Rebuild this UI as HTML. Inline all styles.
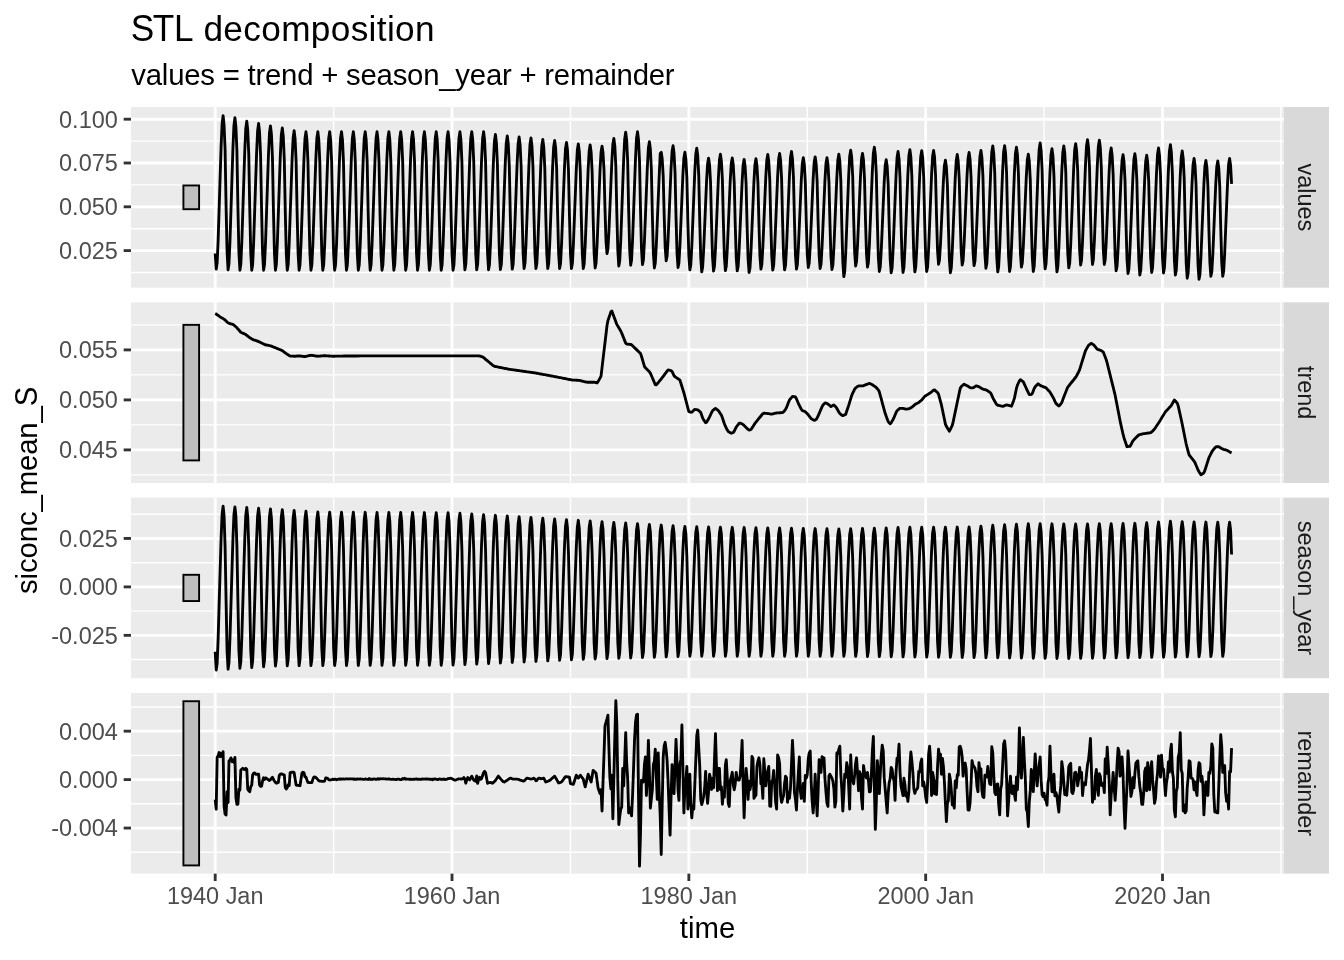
<!DOCTYPE html><html><head><meta charset="utf-8"><title>STL decomposition</title><style>html,body{margin:0;padding:0;background:#fff;}svg{display:block;will-change:transform;}</style></head><body>
<svg width="1344" height="960" viewBox="0 0 1344 960" font-family="'Liberation Sans', Arial, Helvetica, sans-serif">
<rect x="0" y="0" width="1344" height="960" fill="#ffffff"/>
<rect x="131.0" y="107.00" width="1153.00" height="180.65" fill="#EBEBEB"/>
<g stroke="#FFFFFF" fill="none"><line x1="131.0" x2="1284.0" y1="272.50" y2="272.50" stroke-width="1.42"/><line x1="131.0" x2="1284.0" y1="228.70" y2="228.70" stroke-width="1.42"/><line x1="131.0" x2="1284.0" y1="184.90" y2="184.90" stroke-width="1.42"/><line x1="131.0" x2="1284.0" y1="141.10" y2="141.10" stroke-width="1.42"/><line x1="333.63" x2="333.63" y1="107.00" y2="287.65" stroke-width="1.42"/><line x1="570.45" x2="570.45" y1="107.00" y2="287.65" stroke-width="1.42"/><line x1="807.28" x2="807.28" y1="107.00" y2="287.65" stroke-width="1.42"/><line x1="1044.10" x2="1044.10" y1="107.00" y2="287.65" stroke-width="1.42"/><line x1="1280.93" x2="1280.93" y1="107.00" y2="287.65" stroke-width="1.42"/><line x1="131.0" x2="1284.0" y1="250.60" y2="250.60" stroke-width="2.85"/><line x1="131.0" x2="1284.0" y1="206.80" y2="206.80" stroke-width="2.85"/><line x1="131.0" x2="1284.0" y1="163.00" y2="163.00" stroke-width="2.85"/><line x1="131.0" x2="1284.0" y1="119.20" y2="119.20" stroke-width="2.85"/><line x1="215.20" x2="215.20" y1="107.00" y2="287.65" stroke-width="2.85"/><line x1="452.02" x2="452.02" y1="107.00" y2="287.65" stroke-width="2.85"/><line x1="688.85" x2="688.85" y1="107.00" y2="287.65" stroke-width="2.85"/><line x1="925.67" x2="925.67" y1="107.00" y2="287.65" stroke-width="2.85"/><line x1="1162.50" x2="1162.50" y1="107.00" y2="287.65" stroke-width="2.85"/></g>
<rect x="183.41" y="185.45" width="15.69" height="23.75" fill="#BFBFBF" stroke="#000000" stroke-width="1.9"/>
<path d="M215.20,253.50 L216.21,269.18 L217.15,263.04 L218.15,240.03 L219.12,209.35 L220.13,177.13 L221.10,146.45 L222.11,123.44 L223.11,115.77 L224.08,125.02 L225.09,149.67 L226.06,205.15 L227.07,251.39 L228.07,269.88 L228.98,263.79 L229.98,240.97 L230.96,210.54 L231.96,178.58 L232.93,148.15 L233.94,125.33 L234.94,117.72 L235.92,126.87 L236.92,151.28 L237.89,206.20 L238.90,251.97 L239.90,270.28 L240.81,264.32 L241.82,241.96 L242.79,212.15 L243.79,180.84 L244.77,151.03 L245.77,128.67 L246.78,121.22 L247.75,130.16 L248.75,154.01 L249.73,207.67 L250.73,252.39 L251.74,270.28 L252.64,264.41 L253.65,242.40 L254.62,213.04 L255.63,182.22 L256.60,152.87 L257.60,130.86 L258.61,123.52 L259.58,132.33 L260.59,155.81 L261.56,208.64 L262.56,252.67 L263.57,270.28 L264.51,264.50 L265.52,242.83 L266.49,213.94 L267.49,183.60 L268.47,154.71 L269.47,133.04 L270.48,125.82 L271.45,134.49 L272.45,157.60 L273.43,209.61 L274.43,252.94 L275.44,270.28 L276.34,264.59 L277.35,243.23 L278.32,214.76 L279.33,184.86 L280.30,156.39 L281.30,135.04 L282.31,127.92 L283.28,136.46 L284.29,159.24 L285.26,210.49 L286.26,253.20 L287.27,270.28 L288.18,264.69 L289.18,243.74 L290.15,215.81 L291.16,186.48 L292.13,158.55 L293.14,137.60 L294.14,130.62 L295.11,139.00 L296.12,161.35 L297.09,211.62 L298.10,253.52 L299.10,270.28 L300.01,264.73 L301.01,243.93 L301.99,216.20 L302.99,187.08 L303.96,159.35 L304.97,138.55 L305.97,131.62 L306.95,139.94 L307.95,162.13 L308.92,212.04 L309.93,253.64 L310.94,270.28 L311.88,264.73 L312.88,243.93 L313.85,216.20 L314.86,187.08 L315.83,159.35 L316.84,138.55 L317.84,131.62 L318.81,139.94 L319.82,162.13 L320.79,212.04 L321.80,253.64 L322.80,270.28 L323.71,264.73 L324.71,243.93 L325.69,216.20 L326.69,187.08 L327.66,159.35 L328.67,138.55 L329.67,131.62 L330.65,139.94 L331.65,162.13 L332.62,212.04 L333.63,253.64 L334.63,270.28 L335.54,264.73 L336.55,243.93 L337.52,216.20 L338.52,187.08 L339.50,159.35 L340.50,138.55 L341.51,131.62 L342.48,139.94 L343.48,162.13 L344.46,212.04 L345.46,253.64 L346.47,270.28 L347.37,264.73 L348.38,243.93 L349.35,216.20 L350.36,187.08 L351.33,159.35 L352.33,138.55 L353.34,131.62 L354.31,139.94 L355.32,162.13 L356.29,212.04 L357.29,253.64 L358.30,270.28 L359.24,264.73 L360.25,243.93 L361.22,216.20 L362.22,187.08 L363.20,159.35 L364.20,138.55 L365.21,131.62 L366.18,139.94 L367.18,162.13 L368.16,212.04 L369.16,253.64 L370.17,270.28 L371.07,264.73 L372.08,243.93 L373.05,216.20 L374.06,187.08 L375.03,159.35 L376.03,138.55 L377.04,131.62 L378.01,139.94 L379.02,162.13 L379.99,212.04 L380.99,253.64 L382.00,270.28 L382.91,264.73 L383.91,243.93 L384.88,216.20 L385.89,187.08 L386.86,159.35 L387.87,138.55 L388.87,131.62 L389.84,139.94 L390.85,162.13 L391.82,212.04 L392.83,253.64 L393.83,270.28 L394.74,264.73 L395.74,243.93 L396.72,216.20 L397.72,187.08 L398.69,159.35 L399.70,138.55 L400.70,131.62 L401.68,139.94 L402.68,162.13 L403.65,212.04 L404.66,253.64 L405.67,270.28 L406.61,264.73 L407.61,243.93 L408.58,216.20 L409.59,187.08 L410.56,159.35 L411.57,138.55 L412.57,131.62 L413.54,139.94 L414.55,162.13 L415.52,212.04 L416.53,253.64 L417.53,270.28 L418.44,264.73 L419.44,243.93 L420.42,216.20 L421.42,187.08 L422.39,159.35 L423.40,138.55 L424.40,131.62 L425.38,139.94 L426.38,162.13 L427.35,212.04 L428.36,253.64 L429.36,270.28 L430.27,264.73 L431.28,243.93 L432.25,216.20 L433.25,187.08 L434.23,159.35 L435.23,138.55 L436.24,131.62 L437.21,139.94 L438.21,162.13 L439.19,212.04 L440.19,253.64 L441.20,270.28 L442.10,264.73 L443.11,243.93 L444.08,216.20 L445.09,187.08 L446.06,159.35 L447.06,138.55 L448.07,131.62 L449.04,139.94 L450.05,162.13 L451.02,212.04 L452.02,253.64 L453.03,270.28 L453.97,264.73 L454.98,243.93 L455.95,216.20 L456.95,187.08 L457.93,159.35 L458.93,138.55 L459.94,131.62 L460.91,139.92 L461.91,162.04 L462.89,211.81 L463.89,253.29 L464.90,269.88 L465.80,264.35 L466.81,243.61 L467.78,215.96 L468.79,186.92 L469.76,159.27 L470.76,138.53 L471.77,131.62 L472.74,139.92 L473.75,162.04 L474.72,211.81 L475.72,253.29 L476.73,269.88 L477.64,264.35 L478.64,243.61 L479.61,215.96 L480.62,186.92 L481.59,159.27 L482.60,138.53 L483.60,131.62 L484.57,139.92 L485.58,162.04 L486.55,211.81 L487.56,253.29 L488.56,269.88 L489.47,264.47 L490.47,244.16 L491.45,217.09 L492.45,188.66 L493.42,161.59 L494.43,141.29 L495.43,134.52 L496.41,142.62 L497.41,164.23 L498.38,212.85 L499.39,253.37 L500.40,269.58 L501.34,264.23 L502.34,244.18 L503.31,217.45 L504.32,189.38 L505.29,162.65 L506.30,142.60 L507.30,135.92 L508.27,143.92 L509.28,165.24 L510.25,213.21 L511.26,253.19 L512.26,269.18 L513.17,263.89 L514.17,244.07 L515.15,217.64 L516.15,189.88 L517.12,163.45 L518.13,143.63 L519.13,137.02 L520.11,144.91 L521.11,165.96 L522.08,213.32 L523.09,252.79 L524.09,268.58 L525.00,263.36 L526.01,243.77 L526.98,217.66 L527.98,190.24 L528.96,164.13 L529.96,144.55 L530.97,138.02 L531.94,145.85 L532.94,166.74 L533.92,213.74 L534.92,252.91 L535.93,268.58 L536.83,263.41 L537.84,244.04 L538.81,218.21 L539.82,191.08 L540.79,165.25 L541.79,145.88 L542.80,139.42 L543.77,147.17 L544.78,167.84 L545.75,214.33 L546.75,253.08 L547.76,268.58 L548.70,263.46 L549.71,244.25 L550.68,218.64 L551.68,191.74 L552.66,166.13 L553.66,146.92 L554.67,140.52 L555.64,148.20 L556.64,168.69 L557.62,214.79 L558.62,253.21 L559.63,268.58 L560.53,263.53 L561.54,244.61 L562.51,219.38 L563.52,192.88 L564.49,167.65 L565.49,148.73 L566.50,142.42 L567.47,149.99 L568.48,170.18 L569.45,215.59 L570.45,253.44 L571.46,268.58 L572.37,263.59 L573.37,244.88 L574.34,219.92 L575.35,193.72 L576.32,168.77 L577.33,150.06 L578.33,143.82 L579.30,151.31 L580.31,171.27 L581.28,216.18 L582.29,253.61 L583.29,268.58 L584.20,263.63 L585.20,245.07 L586.18,220.31 L587.18,194.32 L588.15,169.57 L589.16,151.01 L590.16,144.82 L591.14,152.21 L592.14,171.92 L593.11,216.25 L594.12,253.20 L595.13,267.98 L596.07,263.11 L597.07,244.83 L598.04,220.45 L599.05,194.86 L600.02,170.49 L601.03,152.21 L602.03,146.12 L603.00,152.57 L604.01,169.78 L604.98,208.50 L605.99,240.77 L606.99,253.68 L607.90,249.07 L608.90,231.78 L609.88,208.73 L610.88,184.52 L611.85,161.47 L612.86,144.18 L613.86,138.42 L614.84,146.08 L615.84,166.51 L616.81,212.46 L617.82,250.76 L618.82,266.08 L619.73,260.73 L620.74,240.65 L621.71,213.87 L622.71,185.76 L623.69,158.99 L624.69,138.91 L625.70,132.22 L626.67,140.20 L627.67,161.49 L628.65,209.39 L629.65,249.31 L630.66,265.28 L631.56,259.93 L632.57,239.88 L633.54,213.15 L634.55,185.08 L635.52,158.35 L636.52,138.30 L637.53,131.62 L638.50,139.60 L639.51,160.89 L640.48,208.79 L641.48,248.71 L642.49,264.68 L643.43,259.76 L644.44,241.32 L645.41,216.73 L646.41,190.90 L647.39,166.31 L648.39,147.87 L649.40,141.72 L650.37,149.30 L651.37,169.50 L652.35,214.95 L653.35,252.83 L654.36,267.98 L655.26,263.35 L656.27,246.00 L657.24,222.87 L658.25,198.58 L659.22,175.45 L660.22,153.48 L661.23,152.32 L662.20,158.83 L663.21,176.18 L664.18,215.23 L665.18,247.76 L666.19,260.78 L667.10,256.18 L668.10,238.92 L669.07,215.91 L670.08,191.74 L671.05,168.73 L672.06,151.47 L673.06,145.72 L674.03,153.03 L675.04,172.53 L676.01,216.40 L677.02,252.96 L678.02,267.58 L678.93,262.96 L679.93,245.64 L680.91,222.55 L681.91,198.30 L682.88,175.21 L683.89,157.89 L684.89,152.12 L685.87,159.19 L686.87,178.03 L687.84,220.42 L688.85,255.75 L689.86,269.88 L690.80,265.01 L691.80,246.75 L692.77,222.39 L693.78,196.82 L694.75,172.47 L695.76,154.21 L696.76,148.12 L697.73,155.55 L698.74,175.35 L699.71,219.90 L700.72,257.03 L701.72,271.88 L702.63,267.33 L703.63,250.27 L704.61,227.51 L705.61,203.62 L706.58,180.87 L707.59,163.81 L708.59,158.12 L709.57,164.90 L710.57,182.97 L711.54,223.64 L712.55,257.52 L713.55,271.08 L714.46,266.41 L715.47,248.88 L716.44,225.50 L717.44,200.96 L718.42,177.59 L719.42,160.06 L720.43,154.22 L721.40,161.21 L722.40,179.84 L723.38,221.77 L724.38,256.70 L725.39,270.68 L726.29,266.17 L727.30,249.26 L728.27,226.70 L729.28,203.02 L730.25,180.47 L731.25,163.56 L732.26,157.92 L733.23,164.70 L734.24,182.77 L735.21,223.44 L736.21,257.32 L737.22,270.88 L738.16,266.42 L739.17,249.68 L740.14,227.37 L741.14,203.94 L742.12,181.63 L743.12,164.90 L744.13,159.32 L745.10,166.11 L746.10,184.22 L747.08,224.95 L748.08,258.90 L749.09,272.48 L749.99,267.93 L751.00,250.87 L751.97,228.11 L752.98,204.22 L753.95,181.47 L754.95,164.41 L755.96,158.72 L756.93,165.35 L757.94,183.02 L758.91,222.79 L759.91,255.92 L760.92,269.18 L761.83,264.59 L762.83,247.38 L763.80,224.42 L764.81,200.32 L765.78,177.37 L766.79,160.16 L767.79,154.42 L768.76,161.36 L769.77,179.87 L770.74,221.50 L771.75,256.20 L772.75,270.08 L773.66,265.42 L774.66,247.93 L775.64,224.62 L776.64,200.14 L777.61,176.83 L778.62,159.35 L779.62,153.52 L780.60,160.50 L781.60,179.12 L782.57,221.01 L783.58,255.92 L784.59,269.88 L785.53,265.15 L786.53,247.39 L787.50,223.72 L788.51,198.86 L789.48,175.19 L790.49,157.44 L791.49,151.52 L792.46,158.58 L793.47,177.41 L794.44,219.76 L795.45,255.06 L796.45,269.18 L797.36,264.72 L798.36,248.00 L799.34,225.71 L800.34,202.30 L801.31,180.01 L802.32,163.29 L803.32,157.72 L804.30,164.31 L805.30,181.89 L806.27,221.44 L807.28,254.40 L808.28,267.58 L809.19,263.15 L810.20,246.54 L811.17,224.38 L812.17,201.12 L813.15,178.97 L814.15,162.36 L815.16,156.82 L816.13,163.53 L817.13,181.41 L818.11,221.64 L819.11,255.17 L820.12,268.58 L821.02,264.15 L822.03,247.52 L823.00,225.34 L824.01,202.06 L824.98,179.89 L825.98,163.26 L826.99,157.72 L827.96,164.43 L828.97,182.33 L829.94,222.60 L830.94,256.16 L831.95,269.58 L832.89,264.96 L833.90,247.64 L834.87,224.55 L835.87,200.30 L836.85,177.21 L837.85,159.89 L838.86,154.12 L839.83,161.47 L840.83,181.08 L841.81,225.20 L842.81,261.97 L843.82,276.68 L844.72,271.62 L845.73,252.65 L846.70,227.36 L847.71,200.80 L848.68,175.51 L849.68,156.54 L850.69,150.22 L851.66,157.17 L852.67,175.71 L853.64,217.42 L854.64,252.18 L855.65,266.08 L856.56,261.57 L857.56,244.66 L858.53,222.10 L859.54,198.42 L860.51,175.87 L861.52,158.96 L862.52,153.32 L863.49,160.15 L864.50,178.37 L865.47,219.36 L866.48,253.52 L867.48,267.18 L868.39,262.38 L869.39,244.37 L870.37,220.36 L871.37,195.14 L872.34,171.13 L873.35,153.12 L874.35,147.12 L875.33,154.58 L876.33,174.48 L877.30,219.25 L878.31,256.56 L879.32,271.48 L880.26,267.01 L881.26,250.25 L882.23,227.89 L883.24,204.42 L884.21,182.07 L885.22,165.31 L886.22,159.72 L887.19,166.50 L888.20,184.59 L889.17,225.29 L890.18,259.21 L891.18,272.78 L892.09,267.93 L893.09,249.72 L894.07,225.45 L895.07,199.96 L896.04,175.69 L897.05,157.49 L898.05,151.42 L899.03,158.68 L900.03,178.05 L901.00,221.63 L902.01,257.95 L903.01,272.48 L903.92,267.57 L904.93,249.14 L905.90,224.56 L906.90,198.76 L907.88,174.19 L908.88,155.76 L909.89,149.62 L910.86,156.96 L911.86,176.52 L912.84,220.53 L913.84,257.21 L914.85,271.88 L915.75,267.03 L916.76,248.84 L917.73,224.59 L918.74,199.12 L919.71,174.87 L920.71,156.68 L921.72,150.62 L922.69,157.87 L923.70,177.21 L924.67,220.72 L925.67,256.98 L926.68,271.48 L927.62,266.64 L928.63,248.48 L929.60,224.27 L930.60,198.84 L931.58,174.63 L932.58,156.47 L933.59,150.42 L934.56,157.25 L935.56,175.47 L936.54,216.46 L937.54,250.62 L938.55,264.28 L939.45,260.12 L940.46,244.51 L941.43,223.70 L942.44,201.84 L943.41,181.03 L944.41,165.42 L945.42,160.22 L946.39,166.97 L947.40,184.98 L948.37,225.50 L949.37,259.27 L950.38,272.78 L951.29,268.05 L952.29,250.31 L953.26,226.66 L954.27,201.82 L955.24,178.17 L956.25,160.43 L957.25,154.52 L958.22,161.15 L959.23,178.84 L960.20,218.64 L961.21,251.81 L962.21,265.08 L963.12,260.58 L964.12,243.69 L965.10,221.18 L966.10,197.54 L967.07,175.03 L968.08,158.15 L969.08,152.52 L970.06,159.31 L971.06,177.42 L972.03,218.15 L973.04,252.10 L974.05,265.68 L974.99,261.07 L975.99,243.78 L976.96,220.73 L977.97,196.52 L978.94,173.47 L979.95,156.18 L980.95,150.42 L981.92,157.49 L982.93,176.35 L983.90,218.78 L984.91,254.14 L985.91,268.28 L986.82,263.39 L987.82,245.03 L988.80,220.56 L989.80,194.86 L990.77,170.39 L991.78,152.04 L992.78,145.92 L993.76,153.48 L994.76,173.63 L995.73,218.98 L996.74,256.76 L997.74,271.88 L998.65,266.83 L999.66,247.91 L1000.63,222.68 L1001.63,196.18 L1002.61,170.95 L1003.61,152.03 L1004.62,145.72 L1005.59,153.27 L1006.59,173.39 L1007.57,218.66 L1008.57,256.39 L1009.58,271.48 L1010.48,266.51 L1011.49,247.87 L1012.46,223.02 L1013.47,196.92 L1014.44,172.07 L1015.44,153.43 L1016.45,147.22 L1017.42,154.42 L1018.43,173.61 L1019.40,216.80 L1020.40,252.78 L1021.41,267.18 L1022.35,262.66 L1023.36,245.72 L1024.33,223.13 L1025.33,199.40 L1026.31,176.81 L1027.31,159.87 L1028.32,154.22 L1029.29,161.26 L1030.29,180.02 L1031.27,222.23 L1032.27,257.41 L1033.28,271.48 L1034.18,266.34 L1035.19,247.07 L1036.16,221.38 L1037.17,194.40 L1038.14,168.71 L1039.14,149.44 L1040.15,143.02 L1041.12,150.57 L1042.13,170.71 L1043.10,216.02 L1044.10,253.78 L1045.11,268.88 L1046.02,264.07 L1047.02,246.05 L1047.99,222.02 L1049.00,196.78 L1049.97,172.75 L1050.98,154.73 L1051.98,148.72 L1052.95,156.11 L1053.96,175.82 L1054.93,220.15 L1055.94,257.10 L1056.94,271.88 L1057.85,266.84 L1058.85,247.95 L1059.83,222.76 L1060.83,196.30 L1061.80,171.11 L1062.81,152.22 L1063.81,145.92 L1064.79,153.24 L1065.79,172.75 L1066.76,216.66 L1067.77,253.24 L1068.78,267.88 L1069.72,262.91 L1070.72,244.27 L1071.69,219.42 L1072.70,193.32 L1073.67,168.47 L1074.68,149.83 L1075.68,143.62 L1076.65,150.91 L1077.66,170.34 L1078.63,214.07 L1079.64,250.50 L1080.64,265.08 L1081.55,260.06 L1082.55,241.24 L1083.53,216.15 L1084.53,189.80 L1085.50,164.71 L1086.51,145.89 L1087.51,139.62 L1088.49,147.11 L1089.49,167.09 L1090.46,212.04 L1091.47,249.50 L1092.47,264.48 L1093.38,259.51 L1094.39,240.87 L1095.36,216.02 L1096.36,189.92 L1097.34,165.07 L1098.34,146.43 L1099.35,140.22 L1100.32,147.68 L1101.32,167.56 L1102.30,212.29 L1103.30,249.57 L1104.31,264.48 L1105.21,259.82 L1106.22,242.33 L1107.19,219.02 L1108.20,194.54 L1109.17,171.23 L1110.17,153.75 L1111.18,147.92 L1112.15,155.29 L1113.16,174.95 L1114.13,219.18 L1115.13,256.04 L1116.14,270.78 L1117.08,266.14 L1118.09,248.73 L1119.06,225.52 L1120.06,201.14 L1121.04,177.93 L1122.04,160.52 L1123.05,154.72 L1124.02,161.85 L1125.02,180.87 L1126.00,223.66 L1127.00,259.32 L1128.01,273.58 L1128.91,268.79 L1129.92,250.81 L1130.89,226.83 L1131.90,201.66 L1132.87,177.69 L1133.87,159.71 L1134.88,153.72 L1135.85,161.00 L1136.86,180.42 L1137.83,224.11 L1138.83,260.52 L1139.84,275.08 L1140.75,270.28 L1141.75,252.29 L1142.72,228.30 L1143.73,203.10 L1144.70,179.11 L1145.71,161.12 L1146.71,155.12 L1147.68,162.16 L1148.69,180.94 L1149.66,223.19 L1150.67,258.40 L1151.67,272.48 L1152.58,267.50 L1153.58,248.81 L1154.56,223.90 L1155.56,197.74 L1156.53,172.83 L1157.54,154.15 L1158.54,147.92 L1159.52,155.42 L1160.52,175.43 L1161.49,220.45 L1162.50,257.97 L1163.51,272.98 L1164.45,267.85 L1165.45,248.61 L1166.42,222.96 L1167.43,196.02 L1168.40,170.37 L1169.41,151.13 L1170.41,144.72 L1171.38,152.54 L1172.39,173.40 L1173.36,220.33 L1174.37,259.44 L1175.37,275.08 L1176.28,270.12 L1177.28,251.51 L1178.26,226.70 L1179.26,200.64 L1180.23,175.83 L1181.24,157.22 L1182.24,151.02 L1183.22,158.66 L1184.22,179.02 L1185.19,224.83 L1186.20,263.01 L1187.20,278.28 L1188.11,273.49 L1189.12,255.51 L1190.09,231.53 L1191.09,206.36 L1192.07,182.39 L1193.07,164.41 L1194.08,158.42 L1195.05,165.67 L1196.05,185.01 L1197.03,228.52 L1198.03,264.78 L1199.04,279.28 L1199.94,274.53 L1200.95,256.70 L1201.92,232.92 L1202.93,207.96 L1203.90,184.19 L1204.90,166.36 L1205.91,160.42 L1206.88,167.37 L1207.89,185.91 L1208.86,227.62 L1209.87,262.38 L1210.87,276.28 L1211.81,271.67 L1212.82,254.36 L1213.79,231.29 L1214.79,207.06 L1215.77,183.99 L1216.77,166.69 L1217.78,160.92 L1218.75,167.84 L1219.75,186.30 L1220.73,227.83 L1221.73,262.44 L1222.74,276.28 L1223.64,271.57 L1224.65,253.89 L1225.62,230.31 L1226.63,205.56 L1227.60,181.99 L1228.60,164.31 L1229.61,158.42 L1230.58,165.39 L1231.59,183.90" fill="none" stroke="#000000" stroke-width="2.85" stroke-linejoin="round" stroke-linecap="butt"/>
<rect x="1284.0" y="107.00" width="45" height="180.65" fill="#D9D9D9"/>
<text x="0" y="0" transform="translate(1297.5,197.32) rotate(90)" text-anchor="middle" font-size="23.47" fill="#1A1A1A">values</text>
<line x1="123.67" x2="131.0" y1="250.60" y2="250.60" stroke="#333333" stroke-width="2.85"/>
<text x="117.8" y="259.00" text-anchor="end" font-size="23.47" fill="#4D4D4D">0.025</text>
<line x1="123.67" x2="131.0" y1="206.80" y2="206.80" stroke="#333333" stroke-width="2.85"/>
<text x="117.8" y="215.20" text-anchor="end" font-size="23.47" fill="#4D4D4D">0.050</text>
<line x1="123.67" x2="131.0" y1="163.00" y2="163.00" stroke="#333333" stroke-width="2.85"/>
<text x="117.8" y="171.40" text-anchor="end" font-size="23.47" fill="#4D4D4D">0.075</text>
<line x1="123.67" x2="131.0" y1="119.20" y2="119.20" stroke="#333333" stroke-width="2.85"/>
<text x="117.8" y="127.60" text-anchor="end" font-size="23.47" fill="#4D4D4D">0.100</text>
<rect x="131.0" y="302.30" width="1153.00" height="180.65" fill="#EBEBEB"/>
<g stroke="#FFFFFF" fill="none"><line x1="131.0" x2="1284.0" y1="474.90" y2="474.90" stroke-width="1.42"/><line x1="131.0" x2="1284.0" y1="424.90" y2="424.90" stroke-width="1.42"/><line x1="131.0" x2="1284.0" y1="374.90" y2="374.90" stroke-width="1.42"/><line x1="131.0" x2="1284.0" y1="324.90" y2="324.90" stroke-width="1.42"/><line x1="333.63" x2="333.63" y1="302.30" y2="482.95" stroke-width="1.42"/><line x1="570.45" x2="570.45" y1="302.30" y2="482.95" stroke-width="1.42"/><line x1="807.28" x2="807.28" y1="302.30" y2="482.95" stroke-width="1.42"/><line x1="1044.10" x2="1044.10" y1="302.30" y2="482.95" stroke-width="1.42"/><line x1="1280.93" x2="1280.93" y1="302.30" y2="482.95" stroke-width="1.42"/><line x1="131.0" x2="1284.0" y1="449.90" y2="449.90" stroke-width="2.85"/><line x1="131.0" x2="1284.0" y1="399.90" y2="399.90" stroke-width="2.85"/><line x1="131.0" x2="1284.0" y1="349.90" y2="349.90" stroke-width="2.85"/><line x1="215.20" x2="215.20" y1="302.30" y2="482.95" stroke-width="2.85"/><line x1="452.02" x2="452.02" y1="302.30" y2="482.95" stroke-width="2.85"/><line x1="688.85" x2="688.85" y1="302.30" y2="482.95" stroke-width="2.85"/><line x1="925.67" x2="925.67" y1="302.30" y2="482.95" stroke-width="2.85"/><line x1="1162.50" x2="1162.50" y1="302.30" y2="482.95" stroke-width="2.85"/></g>
<rect x="183.41" y="324.85" width="15.69" height="135.56" fill="#BFBFBF" stroke="#000000" stroke-width="1.9"/>
<path d="M215.20,313.50 L216.21,314.07 L217.15,314.74 L218.15,315.46 L219.12,316.15 L220.13,316.86 L221.10,317.48 L222.11,318.05 L223.11,318.62 L224.08,319.18 L225.09,320.09 L226.06,321.06 L227.07,322.07 L228.07,322.75 L228.98,323.22 L229.98,323.74 L230.96,323.98 L231.96,324.22 L232.93,324.46 L233.94,325.19 L234.94,326.02 L235.92,326.82 L236.92,327.85 L237.89,328.94 L238.90,330.06 L239.90,331.19 L240.81,332.20 L241.82,332.71 L242.79,333.14 L243.79,333.59 L244.77,334.03 L245.77,334.54 L246.78,335.37 L247.75,336.17 L248.75,337.00 L249.73,337.61 L250.73,338.24 L251.74,338.87 L252.64,339.44 L253.65,339.84 L254.62,340.15 L255.63,340.47 L256.60,340.78 L257.60,341.10 L258.61,341.60 L259.58,342.08 L260.59,342.57 L261.56,343.04 L262.56,343.50 L263.57,343.96 L264.51,344.39 L265.52,344.82 L266.49,345.01 L267.49,345.20 L268.47,345.39 L269.47,345.58 L270.48,345.78 L271.45,346.15 L272.45,346.56 L273.43,346.97 L274.43,347.38 L275.44,347.80 L276.34,348.17 L277.35,348.58 L278.32,348.97 L279.33,349.38 L280.30,349.77 L281.30,350.18 L282.31,350.66 L283.28,351.38 L284.29,352.13 L285.26,352.86 L286.26,353.61 L287.27,354.27 L288.18,354.87 L289.18,355.53 L290.15,356.01 L291.16,356.07 L292.13,356.12 L293.14,356.17 L294.14,356.23 L295.11,356.21 L296.12,356.12 L297.09,356.04 L298.10,355.96 L299.10,355.94 L300.01,356.04 L301.01,356.15 L301.99,356.26 L302.99,356.38 L303.96,356.48 L304.97,356.60 L305.97,356.38 L306.95,356.16 L307.95,355.94 L308.92,355.72 L309.93,355.50 L310.94,355.27 L311.88,355.31 L312.88,355.47 L313.85,355.64 L314.86,355.81 L315.83,355.97 L316.84,356.14 L317.84,356.22 L318.81,356.15 L319.82,356.08 L320.79,356.00 L321.80,355.93 L322.80,355.85 L323.71,355.78 L324.71,355.71 L325.69,355.76 L326.69,355.83 L327.66,355.89 L328.67,355.96 L329.67,356.02 L330.65,356.09 L331.65,356.15 L332.62,356.22 L333.63,356.24 L334.63,356.22 L335.54,356.20 L336.55,356.18 L337.52,356.16 L338.52,356.14 L339.50,356.12 L340.50,356.09 L341.51,356.07 L342.48,356.05 L343.48,356.03 L344.46,356.01 L345.46,356.00 L346.47,355.99 L347.37,355.99 L348.38,355.99 L349.35,355.98 L350.36,355.98 L351.33,355.98 L352.33,355.97 L353.34,355.97 L354.31,355.97 L355.32,355.96 L356.29,355.96 L357.29,355.96 L358.30,355.95 L359.24,355.95 L360.25,355.94 L361.22,355.94 L362.22,355.94 L363.20,355.93 L364.20,355.93 L365.21,355.93 L366.18,355.92 L367.18,355.92 L368.16,355.92 L369.16,355.91 L370.17,355.91 L371.07,355.91 L372.08,355.90 L373.05,355.90 L374.06,355.89 L375.03,355.89 L376.03,355.89 L377.04,355.88 L378.01,355.88 L379.02,355.88 L379.99,355.87 L380.99,355.87 L382.00,355.87 L382.91,355.86 L383.91,355.86 L384.88,355.85 L385.89,355.85 L386.86,355.85 L387.87,355.84 L388.87,355.84 L389.84,355.84 L390.85,355.83 L391.82,355.83 L392.83,355.83 L393.83,355.82 L394.74,355.82 L395.74,355.82 L396.72,355.81 L397.72,355.81 L398.69,355.80 L399.70,355.80 L400.70,355.80 L401.68,355.80 L402.68,355.80 L403.65,355.80 L404.66,355.80 L405.67,355.80 L406.61,355.80 L407.61,355.80 L408.58,355.80 L409.59,355.80 L410.56,355.80 L411.57,355.80 L412.57,355.80 L413.54,355.80 L414.55,355.80 L415.52,355.80 L416.53,355.80 L417.53,355.80 L418.44,355.80 L419.44,355.80 L420.42,355.80 L421.42,355.80 L422.39,355.80 L423.40,355.80 L424.40,355.80 L425.38,355.80 L426.38,355.80 L427.35,355.80 L428.36,355.80 L429.36,355.80 L430.27,355.80 L431.28,355.80 L432.25,355.80 L433.25,355.80 L434.23,355.80 L435.23,355.80 L436.24,355.80 L437.21,355.80 L438.21,355.80 L439.19,355.80 L440.19,355.80 L441.20,355.80 L442.10,355.80 L443.11,355.80 L444.08,355.80 L445.09,355.80 L446.06,355.80 L447.06,355.80 L448.07,355.80 L449.04,355.80 L450.05,355.80 L451.02,355.80 L452.02,355.80 L453.03,355.80 L453.97,355.80 L454.98,355.80 L455.95,355.80 L456.95,355.80 L457.93,355.80 L458.93,355.80 L459.94,355.80 L460.91,355.80 L461.91,355.80 L462.89,355.80 L463.89,355.80 L464.90,355.80 L465.80,355.80 L466.81,355.80 L467.78,355.80 L468.79,355.80 L469.76,355.80 L470.76,355.80 L471.77,355.80 L472.74,355.80 L473.75,355.80 L474.72,355.80 L475.72,355.80 L476.73,355.80 L477.64,355.80 L478.64,355.80 L479.61,355.98 L480.62,356.28 L481.59,356.57 L482.60,356.87 L483.60,357.65 L484.57,358.46 L485.58,359.29 L486.55,360.10 L487.56,360.93 L488.56,361.77 L489.47,362.52 L490.47,363.36 L491.45,364.16 L492.45,365.00 L493.42,365.81 L494.43,366.31 L495.43,366.51 L496.41,366.70 L497.41,366.91 L498.38,367.10 L499.39,367.31 L500.40,367.51 L501.34,367.70 L502.34,367.90 L503.31,368.10 L504.32,368.30 L505.29,368.49 L506.30,368.70 L507.30,368.90 L508.27,369.09 L509.28,369.27 L510.25,369.41 L511.26,369.55 L512.26,369.69 L513.17,369.82 L514.17,369.96 L515.15,370.10 L516.15,370.25 L517.12,370.38 L518.13,370.53 L519.13,370.67 L520.11,370.81 L521.11,370.95 L522.08,371.09 L523.09,371.23 L524.09,371.38 L525.00,371.51 L526.01,371.65 L526.98,371.79 L527.98,371.93 L528.96,372.07 L529.96,372.21 L530.97,372.35 L531.94,372.49 L532.94,372.64 L533.92,372.77 L534.92,372.92 L535.93,373.11 L536.83,373.27 L537.84,373.46 L538.81,373.63 L539.82,373.82 L540.79,373.99 L541.79,374.18 L542.80,374.36 L543.77,374.54 L544.78,374.72 L545.75,374.90 L546.75,375.09 L547.76,375.27 L548.70,375.44 L549.71,375.62 L550.68,375.80 L551.68,375.99 L552.66,376.16 L553.66,376.35 L554.67,376.55 L555.64,376.75 L556.64,376.95 L557.62,377.14 L558.62,377.34 L559.63,377.54 L560.53,377.72 L561.54,377.92 L562.51,378.11 L563.52,378.31 L564.49,378.51 L565.49,378.71 L566.50,378.91 L567.47,379.10 L568.48,379.30 L569.45,379.49 L570.45,379.69 L571.46,379.89 L572.37,380.02 L573.37,380.07 L574.34,380.13 L575.35,380.18 L576.32,380.23 L577.33,380.28 L578.33,380.34 L579.30,380.39 L580.31,380.60 L581.28,380.83 L582.29,381.08 L583.29,381.32 L584.20,381.54 L585.20,381.79 L586.18,382.02 L587.18,382.20 L588.15,382.20 L589.16,382.20 L590.16,382.20 L591.14,382.20 L592.14,382.20 L593.11,382.20 L594.12,382.20 L595.13,382.42 L596.07,382.67 L597.07,382.94 L598.04,381.65 L599.05,379.84 L600.02,378.07 L601.03,376.09 L602.03,367.61 L603.00,359.40 L604.01,350.92 L604.98,342.71 L605.99,334.23 L606.99,325.75 L607.90,320.81 L608.90,317.79 L609.88,314.87 L610.88,311.86 L611.85,310.97 L612.86,313.71 L613.86,316.45 L614.84,319.11 L615.84,321.85 L616.81,324.39 L617.82,326.08 L618.82,327.77 L619.73,329.30 L620.74,330.99 L621.71,333.13 L622.71,335.65 L623.69,338.09 L624.69,340.62 L625.70,343.14 L626.67,343.99 L627.67,344.11 L628.65,344.24 L629.65,344.36 L630.66,344.49 L631.56,344.66 L632.57,345.67 L633.54,346.64 L634.55,347.65 L635.52,348.62 L636.52,349.62 L637.53,350.63 L638.50,351.60 L639.51,352.61 L640.48,353.58 L641.48,356.26 L642.49,359.73 L643.43,362.97 L644.44,366.43 L645.41,367.81 L646.41,368.81 L647.39,369.79 L648.39,370.79 L649.40,371.80 L650.37,373.13 L651.37,375.48 L652.35,377.75 L653.35,380.10 L654.36,382.45 L655.26,384.58 L656.27,384.92 L657.24,383.76 L658.25,382.55 L659.22,381.39 L660.22,380.19 L661.23,378.99 L662.20,377.69 L663.21,376.34 L664.18,375.03 L665.18,373.68 L666.19,372.33 L667.10,371.11 L668.10,369.92 L669.07,370.13 L670.08,370.35 L671.05,370.56 L672.06,371.47 L673.06,373.63 L674.03,375.73 L675.04,376.79 L676.01,377.43 L677.02,378.10 L678.02,378.76 L678.93,379.36 L679.93,380.11 L680.91,383.23 L681.91,386.46 L682.88,389.58 L683.89,392.80 L684.89,396.50 L685.87,400.29 L686.87,404.20 L687.84,407.98 L688.85,411.54 L689.86,411.90 L690.80,412.24 L691.80,412.20 L692.77,411.23 L693.78,410.22 L694.75,409.42 L695.76,409.55 L696.76,409.68 L697.73,409.83 L698.74,410.70 L699.71,411.55 L700.72,412.43 L701.72,415.24 L702.63,417.94 L703.63,419.83 L704.61,421.25 L705.61,422.73 L706.58,422.28 L707.59,420.52 L708.59,418.76 L709.57,416.91 L710.57,414.74 L711.54,412.63 L712.55,410.78 L713.55,409.91 L714.46,409.12 L715.47,408.35 L716.44,409.14 L717.44,409.95 L718.42,410.73 L719.42,412.18 L720.43,413.69 L721.40,415.15 L722.40,417.74 L723.38,420.68 L724.38,423.73 L725.39,426.18 L726.29,428.01 L727.30,430.04 L728.27,431.50 L729.28,432.16 L730.25,432.80 L731.25,433.21 L732.26,432.84 L733.23,432.49 L734.24,431.27 L735.21,429.20 L736.21,427.07 L737.22,425.74 L738.16,424.51 L739.17,423.21 L740.14,423.16 L741.14,423.52 L742.12,423.86 L743.12,424.60 L744.13,425.57 L745.10,426.51 L746.10,427.48 L747.08,428.41 L748.08,429.36 L749.09,429.97 L749.99,429.88 L751.00,429.49 L751.97,427.99 L752.98,426.43 L753.95,424.93 L754.95,423.37 L755.96,422.11 L756.93,420.91 L757.94,419.66 L758.91,418.46 L759.91,417.23 L760.92,416.00 L761.83,414.90 L762.83,413.67 L763.80,413.15 L764.81,413.24 L765.78,413.34 L766.79,413.43 L767.79,413.55 L768.76,413.71 L769.77,413.88 L770.74,414.04 L771.75,414.19 L772.75,413.92 L773.66,413.67 L774.66,413.40 L775.64,413.14 L776.64,413.03 L777.61,412.95 L778.62,412.87 L779.62,412.79 L780.60,412.71 L781.60,412.62 L782.57,412.54 L783.58,411.86 L784.59,410.52 L785.53,409.27 L786.53,407.56 L787.50,405.00 L788.51,402.35 L789.48,399.91 L790.49,398.77 L791.49,397.64 L792.46,396.54 L793.47,396.62 L794.44,396.75 L795.45,396.88 L796.45,398.87 L797.36,400.97 L798.36,403.30 L799.34,405.35 L800.34,407.33 L801.31,409.25 L802.32,410.55 L803.32,410.91 L804.30,411.25 L805.30,411.80 L806.27,412.77 L807.28,413.78 L808.28,414.84 L809.19,416.04 L810.20,417.36 L811.17,418.64 L812.17,419.23 L813.15,419.74 L814.15,420.27 L815.16,420.04 L816.13,419.58 L817.13,417.99 L818.11,415.82 L819.11,413.59 L820.12,411.28 L821.02,409.15 L822.03,406.78 L823.00,404.90 L824.01,403.89 L824.98,402.92 L825.98,403.08 L826.99,403.57 L827.96,404.04 L828.97,404.82 L829.94,405.72 L830.94,406.65 L831.95,406.04 L832.89,405.39 L833.90,404.95 L834.87,405.92 L835.87,406.92 L836.85,408.40 L837.85,410.25 L838.86,412.10 L839.83,413.47 L840.83,414.35 L841.81,415.20 L842.81,415.68 L843.82,415.29 L844.72,414.94 L845.73,414.22 L846.70,411.31 L847.71,408.32 L848.68,405.41 L849.68,402.12 L850.69,398.80 L851.66,395.59 L852.67,393.24 L853.64,391.27 L854.64,389.22 L855.65,387.98 L856.56,387.24 L857.56,386.43 L858.53,385.98 L859.54,385.94 L860.51,385.91 L861.52,385.87 L862.52,385.83 L863.49,385.72 L864.50,385.28 L865.47,384.85 L866.48,384.41 L867.48,384.05 L868.39,383.73 L869.39,383.37 L870.37,383.72 L871.37,384.27 L872.34,384.81 L873.35,385.44 L874.35,386.12 L875.33,386.78 L876.33,387.68 L877.30,388.75 L878.31,389.85 L879.32,391.77 L880.26,395.26 L881.26,398.98 L882.23,402.59 L883.24,406.28 L884.21,409.86 L885.22,413.54 L886.22,416.26 L887.19,418.90 L888.20,421.62 L889.17,422.77 L890.18,423.78 L891.18,422.68 L892.09,421.14 L893.09,419.44 L894.07,417.38 L895.07,414.95 L896.04,412.59 L897.05,410.70 L898.05,409.82 L899.03,408.97 L900.03,408.30 L901.00,408.30 L902.01,408.30 L903.01,408.33 L903.92,408.60 L904.93,408.89 L905.90,409.17 L906.90,409.07 L907.88,408.94 L908.88,408.79 L909.89,408.34 L910.86,407.76 L911.86,407.16 L912.84,406.43 L913.84,405.56 L914.85,404.68 L915.75,404.03 L916.76,403.54 L917.73,403.07 L918.74,402.50 L919.71,401.68 L920.71,400.83 L921.72,399.98 L922.69,398.80 L923.70,397.58 L924.67,396.41 L925.67,395.73 L926.68,395.13 L927.62,394.57 L928.63,393.91 L929.60,393.25 L930.60,392.57 L931.58,391.81 L932.58,390.97 L933.59,390.12 L934.56,389.92 L935.56,390.83 L936.54,391.71 L937.54,392.61 L938.55,394.21 L939.45,397.59 L940.46,401.33 L941.43,404.94 L942.44,409.72 L943.41,414.42 L944.41,419.27 L945.42,424.12 L946.39,426.30 L947.40,427.95 L948.37,429.55 L949.37,431.21 L950.38,429.28 L951.29,427.45 L952.29,425.42 L953.26,421.34 L954.27,416.52 L955.24,411.86 L956.25,407.09 L957.25,402.32 L958.22,397.71 L959.23,392.95 L960.20,388.34 L961.21,386.68 L962.21,385.79 L963.12,384.98 L964.12,384.26 L965.10,384.77 L966.10,385.28 L967.07,385.78 L968.08,386.36 L969.08,386.96 L970.06,387.54 L971.06,387.80 L972.03,387.80 L973.04,387.80 L974.05,387.28 L974.99,386.62 L975.99,385.92 L976.96,385.96 L977.97,386.36 L978.94,386.74 L979.95,387.34 L980.95,387.98 L981.92,388.60 L982.93,389.06 L983.90,389.35 L984.91,389.66 L985.91,389.96 L986.82,390.28 L987.82,390.95 L988.80,391.60 L989.80,392.27 L990.77,393.19 L991.78,395.43 L992.78,397.67 L993.76,399.55 L994.76,401.27 L995.73,402.93 L996.74,404.65 L997.74,405.26 L998.65,405.46 L999.66,405.69 L1000.63,405.90 L1001.63,406.12 L1002.61,406.34 L1003.61,406.10 L1004.62,405.68 L1005.59,405.28 L1006.59,404.92 L1007.57,405.18 L1008.57,405.44 L1009.58,405.70 L1010.48,405.94 L1011.49,406.20 L1012.46,403.66 L1013.47,401.00 L1014.44,398.13 L1015.44,393.30 L1016.45,388.46 L1017.42,385.17 L1018.43,383.01 L1019.40,380.91 L1020.40,379.64 L1021.41,380.43 L1022.35,381.17 L1023.36,381.96 L1024.33,384.06 L1025.33,386.29 L1026.31,388.45 L1027.31,390.57 L1028.32,392.65 L1029.29,394.67 L1030.29,394.69 L1031.27,394.47 L1032.27,393.58 L1033.28,390.91 L1034.18,388.51 L1035.19,386.76 L1036.16,385.70 L1037.17,384.61 L1038.14,383.81 L1039.14,384.58 L1040.15,385.35 L1041.12,385.90 L1042.13,386.29 L1043.10,386.67 L1044.10,387.06 L1045.11,387.45 L1046.02,387.82 L1047.02,388.88 L1047.99,389.90 L1049.00,390.96 L1049.97,392.15 L1050.98,393.83 L1051.98,395.50 L1052.95,397.12 L1053.96,399.06 L1054.93,401.37 L1055.94,403.42 L1056.94,404.33 L1057.85,405.15 L1058.85,406.07 L1059.83,405.11 L1060.83,403.78 L1061.80,402.49 L1062.81,399.74 L1063.81,397.00 L1064.79,394.43 L1065.79,391.92 L1066.76,389.49 L1067.77,387.19 L1068.78,385.92 L1069.72,384.74 L1070.72,383.48 L1071.69,382.26 L1072.70,381.00 L1073.67,379.78 L1074.68,378.51 L1075.68,377.25 L1076.65,375.71 L1077.66,373.73 L1078.63,371.81 L1079.64,369.65 L1080.64,366.33 L1081.55,363.32 L1082.55,360.06 L1083.53,356.97 L1084.53,353.78 L1085.50,350.69 L1086.51,348.88 L1087.51,347.08 L1088.49,345.33 L1089.49,344.56 L1090.46,343.83 L1091.47,343.32 L1092.47,344.05 L1093.38,344.71 L1094.39,345.54 L1095.36,346.81 L1096.36,348.11 L1097.34,349.24 L1098.34,349.57 L1099.35,349.89 L1100.32,350.27 L1101.32,350.80 L1102.30,351.32 L1103.30,352.07 L1104.31,354.68 L1105.21,357.05 L1106.22,359.67 L1107.19,363.18 L1108.20,367.23 L1109.17,371.14 L1110.17,375.18 L1111.18,379.23 L1112.15,383.14 L1113.16,387.18 L1114.13,391.10 L1115.13,395.18 L1116.14,400.39 L1117.08,405.27 L1118.09,410.48 L1119.06,415.52 L1120.06,420.73 L1121.04,425.34 L1122.04,429.74 L1123.05,434.14 L1124.02,437.93 L1125.02,440.89 L1126.00,443.75 L1127.00,446.70 L1128.01,446.57 L1128.91,446.46 L1129.92,446.34 L1130.89,444.92 L1131.90,442.91 L1132.87,440.96 L1133.87,439.83 L1134.88,438.82 L1135.85,437.85 L1136.86,436.84 L1137.83,435.87 L1138.83,434.89 L1139.84,434.63 L1140.75,434.40 L1141.75,434.14 L1142.72,433.90 L1143.73,433.71 L1144.70,433.57 L1145.71,433.42 L1146.71,433.28 L1147.68,433.14 L1148.69,432.99 L1149.66,432.85 L1150.67,432.70 L1151.67,431.85 L1152.58,431.06 L1153.58,430.18 L1154.56,428.93 L1155.56,427.44 L1156.53,426.00 L1157.54,424.51 L1158.54,423.02 L1159.52,421.54 L1160.52,419.88 L1161.49,418.27 L1162.50,416.60 L1163.51,414.94 L1164.45,413.38 L1165.45,411.75 L1166.42,410.72 L1167.43,409.67 L1168.40,408.64 L1169.41,407.59 L1170.41,406.53 L1171.38,405.37 L1172.39,403.55 L1173.36,401.78 L1174.37,399.96 L1175.37,400.99 L1176.28,402.01 L1177.28,403.13 L1178.26,406.11 L1179.26,410.64 L1180.23,415.03 L1181.24,419.56 L1182.24,424.22 L1183.22,429.11 L1184.22,434.16 L1185.19,439.04 L1186.20,444.09 L1187.20,447.92 L1188.11,451.26 L1189.12,454.92 L1190.09,456.16 L1191.09,457.44 L1192.07,458.69 L1193.07,459.97 L1194.08,461.25 L1195.05,462.67 L1196.05,465.17 L1197.03,467.58 L1198.03,470.08 L1199.04,471.79 L1199.94,473.18 L1200.95,474.72 L1201.92,474.17 L1202.93,473.48 L1203.90,472.81 L1204.90,470.38 L1205.91,467.22 L1206.88,464.16 L1207.89,461.00 L1208.86,457.94 L1209.87,455.77 L1210.87,453.76 L1211.81,451.88 L1212.82,450.37 L1213.79,449.21 L1214.79,448.02 L1215.77,446.86 L1216.77,446.70 L1217.78,446.70 L1218.75,446.73 L1219.75,447.34 L1220.73,447.92 L1221.73,448.53 L1222.74,449.14 L1223.64,449.46 L1224.65,449.72 L1225.62,449.97 L1226.63,450.23 L1227.60,450.59 L1228.60,451.21 L1229.61,451.84 L1230.58,452.43 L1231.59,452.83" fill="none" stroke="#000000" stroke-width="2.85" stroke-linejoin="round" stroke-linecap="butt"/>
<rect x="1284.0" y="302.30" width="45" height="180.65" fill="#D9D9D9"/>
<text x="0" y="0" transform="translate(1297.5,392.62) rotate(90)" text-anchor="middle" font-size="23.47" fill="#1A1A1A">trend</text>
<line x1="123.67" x2="131.0" y1="449.90" y2="449.90" stroke="#333333" stroke-width="2.85"/>
<text x="117.8" y="458.30" text-anchor="end" font-size="23.47" fill="#4D4D4D">0.045</text>
<line x1="123.67" x2="131.0" y1="399.90" y2="399.90" stroke="#333333" stroke-width="2.85"/>
<text x="117.8" y="408.30" text-anchor="end" font-size="23.47" fill="#4D4D4D">0.050</text>
<line x1="123.67" x2="131.0" y1="349.90" y2="349.90" stroke="#333333" stroke-width="2.85"/>
<text x="117.8" y="358.30" text-anchor="end" font-size="23.47" fill="#4D4D4D">0.055</text>
<rect x="131.0" y="497.60" width="1153.00" height="180.65" fill="#EBEBEB"/>
<g stroke="#FFFFFF" fill="none"><line x1="131.0" x2="1284.0" y1="659.57" y2="659.57" stroke-width="1.42"/><line x1="131.0" x2="1284.0" y1="611.12" y2="611.12" stroke-width="1.42"/><line x1="131.0" x2="1284.0" y1="562.67" y2="562.67" stroke-width="1.42"/><line x1="131.0" x2="1284.0" y1="514.23" y2="514.23" stroke-width="1.42"/><line x1="333.63" x2="333.63" y1="497.60" y2="678.25" stroke-width="1.42"/><line x1="570.45" x2="570.45" y1="497.60" y2="678.25" stroke-width="1.42"/><line x1="807.28" x2="807.28" y1="497.60" y2="678.25" stroke-width="1.42"/><line x1="1044.10" x2="1044.10" y1="497.60" y2="678.25" stroke-width="1.42"/><line x1="1280.93" x2="1280.93" y1="497.60" y2="678.25" stroke-width="1.42"/><line x1="131.0" x2="1284.0" y1="635.35" y2="635.35" stroke-width="2.85"/><line x1="131.0" x2="1284.0" y1="586.90" y2="586.90" stroke-width="2.85"/><line x1="131.0" x2="1284.0" y1="538.45" y2="538.45" stroke-width="2.85"/><line x1="215.20" x2="215.20" y1="497.60" y2="678.25" stroke-width="2.85"/><line x1="452.02" x2="452.02" y1="497.60" y2="678.25" stroke-width="2.85"/><line x1="688.85" x2="688.85" y1="497.60" y2="678.25" stroke-width="2.85"/><line x1="925.67" x2="925.67" y1="497.60" y2="678.25" stroke-width="2.85"/><line x1="1162.50" x2="1162.50" y1="497.60" y2="678.25" stroke-width="2.85"/></g>
<rect x="183.41" y="574.79" width="15.69" height="26.27" fill="#BFBFBF" stroke="#000000" stroke-width="1.9"/>
<path d="M215.20,651.75 L216.21,669.98 L217.15,663.27 L218.15,638.33 L219.12,605.13 L220.13,570.72 L221.10,538.38 L222.11,514.17 L223.11,506.15 L224.08,515.89 L225.09,546.58 L226.06,600.09 L227.07,651.14 L228.07,669.20 L228.98,662.56 L229.98,637.85 L230.96,604.96 L231.96,570.85 L232.93,538.79 L233.94,514.78 L234.94,506.83 L235.92,516.49 L236.92,546.92 L237.89,599.96 L238.90,650.54 L239.90,668.43 L240.81,661.84 L241.82,637.37 L242.79,604.79 L243.79,570.99 L244.77,539.20 L245.77,515.40 L246.78,507.51 L247.75,517.08 L248.75,547.26 L249.73,599.84 L250.73,649.94 L251.74,667.64 L252.64,661.12 L253.65,636.87 L254.62,604.62 L255.63,571.12 L256.60,539.60 L257.60,516.01 L258.61,508.18 L259.58,517.68 L260.59,547.60 L261.56,599.70 L262.56,649.26 L263.57,666.77 L264.51,660.31 L265.52,636.33 L266.49,604.42 L267.49,571.26 L268.47,540.03 L269.47,516.65 L270.48,508.90 L271.45,518.32 L272.45,547.96 L273.43,599.56 L274.43,648.57 L275.44,665.96 L276.34,659.62 L277.35,635.90 L278.32,604.29 L279.33,571.41 L280.30,540.47 L281.30,517.31 L282.31,509.64 L283.28,518.96 L284.29,548.33 L285.26,599.53 L286.26,648.47 L287.27,665.83 L288.18,659.51 L289.18,635.82 L290.15,604.26 L291.16,571.56 L292.13,540.91 L293.14,517.97 L294.14,510.37 L295.11,519.61 L296.12,548.70 L297.09,599.51 L298.10,648.37 L299.10,665.70 L300.01,659.39 L301.01,635.74 L301.99,604.23 L302.99,571.71 L303.96,541.35 L304.97,518.63 L305.97,511.11 L306.95,520.26 L307.95,549.07 L308.92,599.49 L309.93,648.27 L310.94,665.58 L311.88,659.28 L312.88,635.68 L313.85,604.21 L314.86,571.85 L315.83,541.79 L316.84,519.30 L317.84,511.85 L318.81,520.91 L319.82,549.44 L320.79,599.48 L321.80,648.25 L322.80,665.55 L323.71,659.25 L324.71,635.66 L325.69,604.20 L326.69,571.94 L327.66,542.03 L328.67,519.60 L329.67,512.13 L330.65,521.10 L331.65,549.52 L332.62,599.48 L333.63,648.22 L334.63,665.52 L335.54,659.22 L336.55,635.64 L337.52,604.19 L338.52,571.95 L339.50,542.06 L340.50,519.65 L341.51,512.18 L342.48,521.15 L343.48,549.55 L344.46,599.47 L345.46,648.20 L346.47,665.48 L347.37,659.19 L348.38,635.62 L349.35,604.19 L350.36,571.96 L351.33,542.10 L352.33,519.70 L353.34,512.23 L354.31,521.20 L355.32,549.57 L356.29,599.47 L357.29,648.17 L358.30,665.45 L359.24,659.16 L360.25,635.60 L361.22,604.18 L362.22,571.97 L363.20,542.13 L364.20,519.74 L365.21,512.29 L366.18,521.24 L367.18,549.60 L368.16,599.46 L369.16,648.15 L370.17,665.42 L371.07,659.13 L372.08,635.58 L373.05,604.17 L374.06,571.99 L375.03,542.16 L376.03,519.79 L377.04,512.34 L378.01,521.29 L379.02,549.62 L379.99,599.46 L380.99,648.12 L382.00,665.39 L382.91,659.10 L383.91,635.56 L384.88,604.17 L385.89,572.00 L386.86,542.19 L387.87,519.84 L388.87,512.39 L389.84,521.34 L390.85,549.65 L391.82,599.45 L392.83,648.10 L393.83,665.35 L394.74,659.08 L395.74,635.54 L396.72,604.16 L397.72,572.01 L398.69,542.22 L399.70,519.89 L400.70,512.45 L401.68,521.38 L402.68,549.68 L403.65,599.45 L404.66,648.07 L405.67,665.32 L406.61,659.05 L407.61,635.52 L408.58,604.15 L409.59,572.02 L410.56,542.25 L411.57,519.93 L412.57,512.50 L413.54,521.43 L414.55,549.70 L415.52,599.44 L416.53,648.05 L417.53,665.29 L418.44,659.02 L419.44,635.50 L420.42,604.14 L421.42,572.03 L422.39,542.29 L423.40,519.98 L424.40,512.55 L425.38,521.48 L426.38,549.73 L427.35,599.44 L428.36,648.02 L429.36,665.26 L430.27,658.99 L431.28,635.48 L432.25,604.14 L433.25,572.04 L434.23,542.32 L435.23,520.03 L436.24,512.60 L437.21,521.52 L438.21,549.76 L439.19,599.43 L440.19,648.00 L441.20,665.22 L442.10,658.96 L443.11,635.46 L444.08,604.13 L445.09,572.05 L446.06,542.35 L447.06,520.08 L448.07,512.66 L449.04,521.57 L450.05,549.78 L451.02,599.43 L452.02,647.97 L453.03,665.15 L453.97,658.85 L454.98,635.36 L455.95,604.09 L456.95,572.11 L457.93,542.58 L458.93,520.47 L459.94,513.15 L460.91,522.05 L461.91,550.09 L462.89,599.35 L463.89,647.56 L464.90,664.62 L465.80,658.36 L466.81,635.03 L467.78,603.97 L468.79,572.26 L469.76,543.01 L470.76,521.12 L471.77,513.87 L472.74,522.69 L473.75,550.44 L474.72,599.27 L475.72,647.15 L476.73,664.09 L477.64,657.88 L478.64,634.71 L479.61,603.85 L480.62,572.40 L481.59,543.44 L482.60,521.76 L483.60,514.59 L484.57,523.32 L485.58,550.80 L486.55,599.18 L487.56,646.73 L488.56,663.57 L489.47,657.39 L490.47,634.38 L491.45,603.74 L492.45,572.54 L493.42,543.87 L494.43,522.41 L495.43,515.30 L496.41,523.95 L497.41,551.16 L498.38,599.10 L499.39,646.32 L500.40,663.04 L501.34,656.91 L502.34,634.05 L503.31,603.62 L504.32,572.69 L505.29,544.30 L506.30,523.06 L507.30,516.02 L508.27,524.58 L509.28,551.52 L510.25,599.01 L511.26,645.91 L512.26,662.51 L513.17,656.42 L514.17,633.72 L515.15,603.50 L516.15,572.83 L517.12,544.73 L518.13,523.70 L519.13,516.74 L520.11,525.21 L521.11,551.88 L522.08,598.93 L523.09,645.50 L524.09,661.98 L525.00,655.93 L526.01,633.39 L526.98,603.39 L527.98,572.98 L528.96,545.16 L529.96,524.35 L530.97,517.46 L531.94,525.84 L532.94,552.24 L533.92,598.84 L534.92,645.08 L535.93,661.45 L536.83,655.45 L537.84,633.07 L538.81,603.27 L539.82,573.12 L540.79,545.59 L541.79,524.99 L542.80,518.17 L543.77,526.47 L544.78,552.60 L545.75,598.76 L546.75,644.67 L547.76,660.92 L548.70,654.96 L549.71,632.74 L550.68,603.16 L551.68,573.26 L552.66,546.02 L553.66,525.64 L554.67,518.89 L555.64,527.10 L556.64,552.95 L557.62,598.67 L558.62,644.26 L559.63,660.39 L560.53,654.47 L561.54,632.41 L562.51,603.04 L563.52,573.41 L564.49,546.45 L565.49,526.28 L566.50,519.61 L567.47,527.73 L568.48,553.31 L569.45,598.59 L570.45,643.85 L571.46,659.87 L572.37,653.99 L573.37,632.08 L574.34,602.92 L575.35,573.55 L576.32,546.87 L577.33,526.91 L578.33,520.30 L579.30,528.34 L580.31,553.66 L581.28,598.50 L582.29,643.44 L583.29,659.35 L584.20,653.53 L585.20,631.78 L586.18,602.82 L587.18,573.68 L588.15,547.28 L589.16,527.52 L590.16,520.98 L591.14,528.94 L592.14,553.99 L593.11,598.45 L594.12,643.17 L595.13,659.01 L596.07,653.21 L597.07,631.57 L598.04,602.74 L599.05,573.82 L600.02,547.68 L601.03,528.13 L602.03,521.65 L603.00,529.53 L604.01,554.33 L604.98,598.39 L605.99,642.90 L606.99,658.66 L607.90,652.90 L608.90,631.36 L609.88,602.67 L610.88,573.95 L611.85,548.09 L612.86,528.74 L613.86,522.33 L614.84,530.13 L615.84,554.67 L616.81,598.34 L617.82,642.63 L618.82,658.32 L619.73,652.58 L620.74,631.14 L621.71,602.59 L622.71,574.09 L623.69,548.50 L624.69,529.35 L625.70,523.01 L626.67,530.73 L627.67,555.01 L628.65,598.28 L629.65,642.36 L630.66,657.97 L631.56,652.26 L632.57,630.93 L633.54,602.52 L634.55,574.22 L635.52,548.91 L636.52,529.96 L637.53,523.69 L638.50,531.32 L639.51,555.35 L640.48,598.23 L641.48,642.09 L642.49,657.63 L643.43,651.95 L644.44,630.72 L645.41,602.44 L646.41,574.36 L647.39,549.31 L648.39,530.57 L649.40,524.37 L650.37,531.92 L651.37,555.69 L652.35,598.17 L653.35,641.82 L654.36,657.29 L655.26,651.63 L656.27,630.50 L657.24,602.37 L658.25,574.50 L659.22,549.72 L660.22,531.18 L661.23,525.05 L662.20,532.52 L663.21,556.03 L664.18,598.12 L665.18,641.55 L666.19,656.94 L667.10,651.31 L668.10,630.29 L669.07,602.29 L670.08,574.63 L671.05,550.13 L672.06,531.79 L673.06,525.72 L674.03,533.11 L675.04,556.37 L676.01,598.06 L677.02,641.29 L678.02,656.60 L678.93,650.99 L679.93,630.08 L680.91,602.21 L681.91,574.77 L682.88,550.53 L683.89,532.40 L684.89,526.40 L685.87,533.71 L686.87,556.71 L687.84,598.01 L688.85,641.02 L689.86,656.28 L690.80,650.73 L691.80,629.92 L692.77,602.16 L693.78,574.86 L694.75,550.79 L695.76,532.75 L696.76,526.75 L697.73,533.98 L698.74,556.84 L699.71,598.00 L700.72,641.02 L701.72,656.28 L702.63,650.73 L703.63,629.92 L704.61,602.16 L705.61,574.90 L706.58,550.90 L707.59,532.91 L708.59,526.93 L709.57,534.14 L710.57,556.93 L711.54,598.00 L712.55,641.02 L713.55,656.28 L714.46,650.73 L715.47,629.92 L716.44,602.16 L717.44,574.93 L718.42,551.01 L719.42,533.07 L720.43,527.11 L721.40,534.29 L722.40,557.02 L723.38,598.00 L724.38,641.02 L725.39,656.28 L726.29,650.73 L727.30,629.92 L728.27,602.16 L729.28,574.97 L730.25,551.11 L731.25,533.23 L732.26,527.28 L733.23,534.45 L734.24,557.11 L735.21,598.00 L736.21,641.02 L737.22,656.28 L738.16,650.73 L739.17,629.92 L740.14,602.16 L741.14,575.00 L742.12,551.22 L743.12,533.39 L744.13,527.46 L745.10,534.61 L746.10,557.20 L747.08,598.00 L748.08,641.02 L749.09,656.28 L749.99,650.73 L751.00,629.92 L751.97,602.16 L752.98,575.04 L753.95,551.33 L754.95,533.55 L755.96,527.64 L756.93,534.77 L757.94,557.29 L758.91,598.00 L759.91,641.02 L760.92,656.28 L761.83,650.73 L762.83,629.92 L763.80,602.16 L764.81,575.08 L765.78,551.43 L766.79,533.72 L767.79,527.82 L768.76,534.92 L769.77,557.38 L770.74,598.00 L771.75,641.02 L772.75,656.28 L773.66,650.73 L774.66,629.92 L775.64,602.16 L776.64,575.11 L777.61,551.54 L778.62,533.88 L779.62,528.00 L780.60,535.08 L781.60,557.46 L782.57,598.00 L783.58,641.02 L784.59,656.28 L785.53,650.73 L786.53,629.92 L787.50,602.16 L788.51,575.15 L789.48,551.65 L790.49,534.04 L791.49,528.18 L792.46,535.24 L793.47,557.55 L794.44,598.00 L795.45,641.02 L796.45,656.28 L797.36,650.73 L798.36,629.92 L799.34,602.16 L800.34,575.18 L801.31,551.76 L802.32,534.20 L803.32,528.36 L804.30,535.40 L805.30,557.64 L806.27,598.00 L807.28,641.02 L808.28,656.28 L809.19,650.73 L810.20,629.92 L811.17,602.16 L812.17,575.22 L813.15,551.86 L814.15,534.36 L815.16,528.54 L816.13,535.55 L817.13,557.73 L818.11,598.00 L819.11,641.02 L820.12,656.28 L821.02,650.73 L822.03,629.92 L823.00,602.16 L824.01,575.25 L824.98,551.97 L825.98,534.52 L826.99,528.72 L827.96,535.71 L828.97,557.82 L829.94,598.00 L830.94,641.02 L831.95,656.28 L832.89,650.73 L833.90,629.92 L834.87,602.16 L835.87,575.29 L836.85,552.08 L837.85,534.68 L838.86,528.89 L839.83,535.87 L840.83,557.91 L841.81,598.00 L842.81,641.02 L843.82,656.29 L844.72,650.75 L845.73,629.93 L846.70,602.17 L847.71,575.29 L848.68,552.04 L849.68,534.59 L850.69,528.75 L851.66,535.71 L852.67,557.80 L853.64,598.02 L854.64,641.11 L855.65,656.41 L856.56,650.86 L857.56,630.01 L858.53,602.20 L859.54,575.22 L860.51,551.86 L861.52,534.31 L862.52,528.44 L863.49,535.44 L864.50,557.65 L865.47,598.04 L866.48,641.21 L867.48,656.54 L868.39,650.97 L869.39,630.09 L870.37,602.23 L871.37,575.16 L872.34,551.67 L873.35,534.04 L874.35,528.14 L875.33,535.17 L876.33,557.49 L877.30,598.06 L878.31,641.30 L879.32,656.66 L880.26,651.09 L881.26,630.16 L882.23,602.25 L883.24,575.10 L884.21,551.49 L885.22,533.76 L886.22,527.83 L887.19,534.90 L888.20,557.34 L889.17,598.08 L890.18,641.40 L891.18,656.78 L892.09,651.20 L893.09,630.24 L894.07,602.28 L895.07,575.04 L896.04,551.31 L897.05,533.49 L898.05,527.53 L899.03,534.63 L900.03,557.19 L901.00,598.10 L902.01,641.49 L903.01,656.90 L903.92,651.31 L904.93,630.31 L905.90,602.31 L906.90,574.98 L907.88,551.12 L908.88,533.21 L909.89,527.22 L910.86,534.37 L911.86,557.05 L912.84,598.12 L913.84,641.59 L914.85,657.02 L915.75,651.42 L916.76,630.39 L917.73,602.33 L918.74,574.96 L919.71,551.07 L920.71,533.15 L921.72,527.17 L922.69,534.34 L923.70,557.03 L924.67,598.14 L925.67,641.69 L926.68,657.15 L927.62,651.54 L928.63,630.47 L929.60,602.36 L930.60,574.95 L931.58,551.04 L932.58,533.11 L933.59,527.13 L934.56,534.30 L935.56,557.01 L936.54,598.16 L937.54,641.78 L938.55,657.27 L939.45,651.65 L940.46,630.54 L941.43,602.39 L942.44,574.94 L943.41,551.02 L944.41,533.08 L945.42,527.09 L946.39,534.27 L947.40,556.99 L948.37,598.18 L949.37,641.88 L950.38,657.39 L951.29,651.76 L952.29,630.62 L953.26,602.42 L954.27,574.93 L955.24,551.00 L956.25,533.04 L957.25,527.06 L958.22,534.23 L959.23,556.97 L960.20,598.20 L961.21,641.97 L962.21,657.51 L963.12,651.87 L964.12,630.69 L965.10,602.44 L966.10,574.93 L967.07,550.97 L968.08,533.01 L969.08,527.02 L970.06,534.16 L971.06,556.89 L972.03,598.21 L973.04,642.07 L974.05,657.64 L974.99,651.99 L975.99,630.77 L976.96,602.47 L977.97,574.78 L978.94,550.50 L979.95,532.23 L980.95,526.08 L981.92,533.31 L982.93,556.41 L983.90,598.23 L984.91,642.16 L985.91,657.76 L986.82,652.10 L987.82,630.85 L988.80,602.50 L989.80,574.59 L990.77,549.92 L991.78,531.36 L992.78,525.11 L993.76,532.48 L994.76,555.96 L995.73,598.25 L996.74,642.26 L997.74,657.88 L998.65,652.21 L999.66,630.92 L1000.63,602.52 L1001.63,574.47 L1002.61,549.59 L1003.61,530.90 L1004.62,524.64 L1005.59,532.08 L1006.59,555.73 L1007.57,598.27 L1008.57,642.35 L1009.58,658.00 L1010.48,652.33 L1011.49,631.00 L1012.46,602.55 L1013.47,574.38 L1014.44,549.32 L1015.44,530.49 L1016.45,524.19 L1017.42,531.68 L1018.43,555.51 L1019.40,598.29 L1020.40,642.45 L1021.41,658.13 L1022.35,652.44 L1023.36,631.07 L1024.33,602.58 L1025.33,574.29 L1026.31,549.05 L1027.31,530.09 L1028.32,523.74 L1029.29,531.30 L1030.29,555.31 L1031.27,598.31 L1032.27,642.54 L1033.28,658.25 L1034.18,652.55 L1035.19,631.15 L1036.16,602.60 L1037.17,574.27 L1038.14,549.01 L1039.14,530.07 L1040.15,523.76 L1041.12,531.34 L1042.13,555.33 L1043.10,598.33 L1044.10,642.64 L1045.11,658.37 L1046.02,652.66 L1047.02,631.22 L1047.99,602.63 L1049.00,574.28 L1049.97,549.04 L1050.98,530.11 L1051.98,523.80 L1052.95,531.37 L1053.96,555.35 L1054.93,598.35 L1055.94,642.74 L1056.94,658.49 L1057.85,652.78 L1058.85,631.30 L1059.83,602.66 L1060.83,574.29 L1061.80,549.06 L1062.81,530.14 L1063.81,523.84 L1064.79,531.41 L1065.79,555.37 L1066.76,598.37 L1067.77,642.83 L1068.78,658.59 L1069.72,652.84 L1070.72,631.33 L1071.69,602.66 L1072.70,574.29 L1073.67,549.08 L1074.68,530.18 L1075.68,523.88 L1076.65,531.44 L1077.66,555.39 L1078.63,598.35 L1079.64,642.70 L1080.64,658.42 L1081.55,652.69 L1082.55,631.23 L1083.53,602.63 L1084.53,574.30 L1085.50,549.11 L1086.51,530.21 L1087.51,523.91 L1088.49,531.45 L1089.49,555.39 L1090.46,598.32 L1091.47,642.57 L1092.47,658.26 L1093.38,652.54 L1094.39,631.12 L1095.36,602.59 L1096.36,574.28 L1097.34,549.03 L1098.34,530.08 L1099.35,523.76 L1100.32,531.33 L1101.32,555.32 L1102.30,598.29 L1103.30,642.44 L1104.31,658.09 L1105.21,652.38 L1106.22,631.02 L1107.19,602.55 L1108.20,574.25 L1109.17,548.94 L1110.17,529.95 L1111.18,523.61 L1112.15,531.20 L1113.16,555.25 L1114.13,598.27 L1115.13,642.31 L1116.14,657.92 L1117.08,652.23 L1118.09,630.92 L1119.06,602.52 L1120.06,574.22 L1121.04,548.86 L1122.04,529.82 L1123.05,523.47 L1124.02,531.07 L1125.02,555.17 L1126.00,598.24 L1127.00,642.18 L1128.01,657.76 L1128.91,652.07 L1129.92,630.81 L1130.89,602.48 L1131.90,574.19 L1132.87,548.77 L1133.87,529.69 L1134.88,523.29 L1135.85,530.87 L1136.86,555.04 L1137.83,598.21 L1138.83,642.05 L1139.84,657.59 L1140.75,651.92 L1141.75,630.71 L1142.72,602.44 L1143.73,574.07 L1144.70,548.39 L1145.71,529.08 L1146.71,522.60 L1147.68,530.27 L1148.69,554.69 L1149.66,598.19 L1150.67,641.92 L1151.67,657.42 L1152.58,651.77 L1153.58,630.61 L1154.56,602.41 L1155.56,573.94 L1156.53,547.98 L1157.54,528.46 L1158.54,521.91 L1159.52,529.66 L1160.52,554.35 L1161.49,598.16 L1162.50,641.79 L1163.51,657.25 L1164.45,651.61 L1165.45,630.50 L1166.42,602.37 L1167.43,573.80 L1168.40,547.56 L1169.41,527.84 L1170.41,521.22 L1171.38,529.10 L1172.39,554.08 L1173.36,598.13 L1174.37,641.66 L1175.37,657.09 L1176.28,651.46 L1177.28,630.40 L1178.26,602.33 L1179.26,573.82 L1180.23,547.67 L1181.24,528.08 L1182.24,521.58 L1183.22,529.44 L1184.22,554.27 L1185.19,598.11 L1186.20,641.53 L1187.20,656.92 L1188.11,651.30 L1189.12,630.29 L1190.09,602.29 L1191.09,573.89 L1192.07,547.90 L1193.07,528.43 L1194.08,521.96 L1195.05,529.77 L1196.05,554.44 L1197.03,598.08 L1198.03,641.40 L1199.04,656.75 L1199.94,651.15 L1200.95,630.19 L1201.92,602.26 L1202.93,573.92 L1203.90,547.98 L1204.90,528.52 L1205.91,522.04 L1206.88,529.82 L1207.89,554.47 L1208.86,598.05 L1209.87,641.26 L1210.87,656.58 L1211.81,651.00 L1212.82,630.09 L1213.79,602.22 L1214.79,573.94 L1215.77,548.01 L1216.77,528.57 L1217.78,522.10 L1218.75,529.88 L1219.75,554.50 L1220.73,598.03 L1221.73,641.13 L1222.74,656.42 L1223.64,650.84 L1224.65,629.98 L1225.62,602.18 L1226.63,573.95 L1227.60,548.05 L1228.60,528.63 L1229.61,522.16 L1230.58,529.93 L1231.59,554.53" fill="none" stroke="#000000" stroke-width="2.85" stroke-linejoin="round" stroke-linecap="butt"/>
<rect x="1284.0" y="497.60" width="45" height="180.65" fill="#D9D9D9"/>
<text x="0" y="0" transform="translate(1297.5,587.93) rotate(90)" text-anchor="middle" font-size="23.47" fill="#1A1A1A">season_year</text>
<line x1="123.67" x2="131.0" y1="635.35" y2="635.35" stroke="#333333" stroke-width="2.85"/>
<text x="117.8" y="643.75" text-anchor="end" font-size="23.47" fill="#4D4D4D">-0.025</text>
<line x1="123.67" x2="131.0" y1="586.90" y2="586.90" stroke="#333333" stroke-width="2.85"/>
<text x="117.8" y="595.30" text-anchor="end" font-size="23.47" fill="#4D4D4D">0.000</text>
<line x1="123.67" x2="131.0" y1="538.45" y2="538.45" stroke="#333333" stroke-width="2.85"/>
<text x="117.8" y="546.85" text-anchor="end" font-size="23.47" fill="#4D4D4D">0.025</text>
<rect x="131.0" y="693.00" width="1153.00" height="180.65" fill="#EBEBEB"/>
<g stroke="#FFFFFF" fill="none"><line x1="131.0" x2="1284.0" y1="852.27" y2="852.27" stroke-width="1.42"/><line x1="131.0" x2="1284.0" y1="803.82" y2="803.82" stroke-width="1.42"/><line x1="131.0" x2="1284.0" y1="755.38" y2="755.38" stroke-width="1.42"/><line x1="131.0" x2="1284.0" y1="706.93" y2="706.93" stroke-width="1.42"/><line x1="333.63" x2="333.63" y1="693.00" y2="873.65" stroke-width="1.42"/><line x1="570.45" x2="570.45" y1="693.00" y2="873.65" stroke-width="1.42"/><line x1="807.28" x2="807.28" y1="693.00" y2="873.65" stroke-width="1.42"/><line x1="1044.10" x2="1044.10" y1="693.00" y2="873.65" stroke-width="1.42"/><line x1="1280.93" x2="1280.93" y1="693.00" y2="873.65" stroke-width="1.42"/><line x1="131.0" x2="1284.0" y1="828.05" y2="828.05" stroke-width="2.85"/><line x1="131.0" x2="1284.0" y1="779.60" y2="779.60" stroke-width="2.85"/><line x1="131.0" x2="1284.0" y1="731.15" y2="731.15" stroke-width="2.85"/><line x1="215.20" x2="215.20" y1="693.00" y2="873.65" stroke-width="2.85"/><line x1="452.02" x2="452.02" y1="693.00" y2="873.65" stroke-width="2.85"/><line x1="688.85" x2="688.85" y1="693.00" y2="873.65" stroke-width="2.85"/><line x1="925.67" x2="925.67" y1="693.00" y2="873.65" stroke-width="2.85"/><line x1="1162.50" x2="1162.50" y1="693.00" y2="873.65" stroke-width="2.85"/></g>
<rect x="183.41" y="701.23" width="15.69" height="164.19" fill="#BFBFBF" stroke="#000000" stroke-width="1.9"/>
<path d="M215.20,799.60 L216.21,809.20 L217.15,757.50 L218.15,755.80 L219.12,752.50 L220.13,756.70 L221.10,753.30 L222.11,756.70 L223.11,751.70 L224.08,805.80 L225.09,814.20 L226.06,815.00 L227.07,791.70 L228.07,802.50 L228.98,760.80 L229.98,760.00 L230.96,757.90 L231.96,761.70 L232.93,760.00 L233.94,762.50 L234.94,757.50 L235.92,797.50 L236.92,804.20 L237.89,804.20 L238.90,789.20 L239.90,790.00 L240.81,770.00 L241.82,769.20 L242.79,768.30 L243.79,769.20 L244.77,769.60 L245.77,768.30 L246.78,769.20 L247.75,789.20 L248.75,790.80 L249.73,791.70 L250.73,786.70 L251.74,785.00 L252.64,775.00 L253.65,773.30 L254.62,772.90 L255.63,774.20 L256.60,774.20 L257.60,774.20 L258.61,774.20 L259.58,785.00 L260.59,786.30 L261.56,786.30 L262.56,780.89 L263.57,777.77 L264.51,779.62 L265.52,777.88 L266.49,778.36 L267.49,779.09 L268.47,779.82 L269.47,780.55 L270.48,779.63 L271.45,778.30 L272.45,777.30 L273.43,779.25 L274.43,781.20 L275.44,782.44 L276.34,783.19 L277.35,782.83 L278.32,782.47 L279.33,775.29 L280.30,774.10 L281.30,773.84 L282.31,774.21 L283.28,774.59 L284.29,774.96 L285.26,787.50 L286.26,789.00 L287.27,787.56 L288.18,784.60 L289.18,785.60 L290.15,772.56 L291.16,772.41 L292.13,772.27 L293.14,772.13 L294.14,772.62 L295.11,778.86 L296.12,785.10 L297.09,785.24 L298.10,785.39 L299.10,785.53 L300.01,785.67 L301.01,779.03 L301.99,772.99 L302.99,772.27 L303.96,772.55 L304.97,776.80 L305.97,777.13 L306.95,779.90 L307.95,782.45 L308.92,782.50 L309.93,782.56 L310.94,782.62 L311.88,782.68 L312.88,779.17 L313.85,777.20 L314.86,776.91 L315.83,777.45 L316.84,778.52 L317.84,779.60 L318.81,780.68 L319.82,781.06 L320.79,781.15 L321.80,781.25 L322.80,781.34 L323.71,781.43 L324.71,780.92 L325.69,778.00 L326.69,778.00 L327.66,778.28 L328.67,779.68 L329.67,780.00 L330.65,779.85 L331.65,779.70 L332.62,779.08 L333.63,779.59 L334.63,779.23 L335.54,779.11 L336.55,779.76 L337.52,779.33 L338.52,779.27 L339.50,778.89 L340.50,779.36 L341.51,778.97 L342.48,779.05 L343.48,778.83 L344.46,779.04 L345.46,779.18 L346.47,778.79 L347.37,778.94 L348.38,779.15 L349.35,778.85 L350.36,778.86 L351.33,778.96 L352.33,778.82 L353.34,779.32 L354.31,778.92 L355.32,779.36 L356.29,779.40 L357.29,778.87 L358.30,779.18 L359.24,779.05 L360.25,778.88 L361.22,779.08 L362.22,779.11 L363.20,779.34 L364.20,779.42 L365.21,778.89 L366.18,779.07 L367.18,779.30 L368.16,779.46 L369.16,778.56 L370.17,779.49 L371.07,779.12 L372.08,779.55 L373.05,779.06 L374.06,778.96 L375.03,779.18 L376.03,779.46 L377.04,779.17 L378.01,778.58 L379.02,779.34 L379.99,778.77 L380.99,778.92 L382.00,778.88 L382.91,778.71 L383.91,778.85 L384.88,778.92 L385.89,779.01 L386.86,779.15 L387.87,779.08 L388.87,778.80 L389.84,779.12 L390.85,779.41 L391.82,779.40 L392.83,779.20 L393.83,779.32 L394.74,779.39 L395.74,779.51 L396.72,779.59 L397.72,779.09 L398.69,779.10 L399.70,779.53 L400.70,779.56 L401.68,779.55 L402.68,778.58 L403.65,779.11 L404.66,778.35 L405.67,779.35 L406.61,779.18 L407.61,779.18 L408.58,779.13 L409.59,779.49 L410.56,779.09 L411.57,779.42 L412.57,779.31 L413.54,779.26 L414.55,779.28 L415.52,779.19 L416.53,778.89 L417.53,779.35 L418.44,779.34 L419.44,779.13 L420.42,779.35 L421.42,779.39 L422.39,778.85 L423.40,779.13 L424.40,779.06 L425.38,778.94 L426.38,779.25 L427.35,778.96 L428.36,779.06 L429.36,779.23 L430.27,779.25 L431.28,779.25 L432.25,779.73 L433.25,779.04 L434.23,779.23 L435.23,778.87 L436.24,779.29 L437.21,779.46 L438.21,779.47 L439.19,779.01 L440.19,779.10 L441.20,779.48 L442.10,779.14 L443.11,779.41 L444.08,778.92 L445.09,779.51 L446.06,779.42 L447.06,779.18 L448.07,778.62 L449.04,778.53 L450.05,778.32 L451.02,778.22 L452.02,778.72 L453.03,779.22 L453.97,779.69 L454.98,780.20 L455.95,779.88 L456.95,779.52 L457.93,779.18 L458.93,778.83 L459.94,778.85 L460.91,778.98 L461.91,779.12 L462.89,778.57 L463.89,777.57 L464.90,779.31 L465.80,783.20 L466.81,779.68 L467.78,777.50 L468.79,779.01 L469.76,779.86 L470.76,777.85 L471.77,776.25 L472.74,778.19 L473.75,780.20 L474.72,780.69 L475.72,781.20 L476.73,775.88 L477.64,783.38 L478.64,779.21 L479.61,777.35 L480.62,779.36 L481.59,778.56 L482.60,775.54 L483.60,772.53 L484.57,771.34 L485.58,772.60 L486.55,778.05 L487.56,783.24 L488.56,782.91 L489.47,782.61 L490.47,782.32 L491.45,782.81 L492.45,783.31 L493.42,782.41 L494.43,781.40 L495.43,780.40 L496.41,779.00 L497.41,777.46 L498.38,776.11 L499.39,777.36 L500.40,778.62 L501.34,779.67 L502.34,780.67 L503.31,781.65 L504.32,782.05 L505.29,781.40 L506.30,780.73 L507.30,780.06 L508.27,779.42 L509.28,778.75 L510.25,778.14 L511.26,778.47 L512.26,778.81 L513.17,779.11 L514.17,779.17 L515.15,779.17 L516.15,779.17 L517.12,779.17 L518.13,779.38 L519.13,779.71 L520.11,780.04 L521.11,780.37 L522.08,780.69 L523.09,781.03 L524.09,780.91 L525.00,780.00 L526.01,778.99 L526.98,778.15 L527.98,778.40 L528.96,778.65 L529.96,778.90 L530.97,779.15 L531.94,778.87 L532.94,778.53 L533.92,778.21 L534.92,779.26 L535.93,780.77 L536.83,780.37 L537.84,778.87 L538.81,778.12 L539.82,778.12 L540.79,778.85 L541.79,778.61 L542.80,778.36 L543.77,778.12 L544.78,780.06 L545.75,781.99 L546.75,781.61 L547.76,781.22 L548.70,780.83 L549.71,780.44 L550.68,779.59 L551.68,778.74 L552.66,777.89 L553.66,777.04 L554.67,776.19 L555.64,777.88 L556.64,779.57 L557.62,781.27 L558.62,782.96 L559.63,782.64 L560.53,782.31 L561.54,781.99 L562.51,780.64 L563.52,779.28 L564.49,777.93 L565.49,776.58 L566.50,776.72 L567.47,776.87 L568.48,777.01 L569.45,777.16 L570.45,783.54 L571.46,783.80 L572.37,784.06 L573.37,784.31 L574.34,781.28 L575.35,778.25 L576.32,775.22 L577.33,776.67 L578.33,778.12 L579.30,776.67 L580.31,775.22 L581.28,776.51 L582.29,777.80 L583.29,779.09 L584.20,782.96 L585.20,786.83 L586.18,782.64 L587.18,778.45 L588.15,774.25 L589.16,776.83 L590.16,779.41 L591.14,781.99 L592.14,776.19 L593.11,770.38 L594.12,771.35 L595.13,772.32 L596.07,773.29 L597.07,780.54 L598.04,787.80 L599.05,790.70 L600.02,793.60 L601.03,789.73 L602.03,811.01 L603.00,782.64 L604.01,754.26 L604.98,725.89 L605.99,722.34 L606.99,718.79 L607.90,715.25 L608.90,746.69 L609.88,778.12 L610.88,788.92 L611.85,775.22 L612.86,818.75 L613.86,777.41 L614.84,736.68 L615.84,700.74 L616.81,723.44 L617.82,783.22 L618.82,824.55 L619.73,816.51 L620.74,809.19 L621.71,807.14 L622.71,768.45 L623.69,785.86 L624.69,761.47 L625.70,732.66 L626.67,762.37 L627.67,778.72 L628.65,812.95 L629.65,807.71 L630.66,811.55 L631.56,815.85 L632.57,795.20 L633.54,768.83 L634.55,739.43 L635.52,721.91 L636.52,714.83 L637.53,714.28 L638.50,795.37 L639.51,866.15 L640.48,834.12 L641.48,780.06 L642.49,780.81 L643.43,781.99 L644.44,764.63 L645.41,756.84 L646.41,795.53 L647.39,775.64 L648.39,740.40 L649.40,772.09 L650.37,808.11 L651.37,798.68 L652.35,789.93 L653.35,764.58 L654.36,761.25 L655.26,749.10 L656.27,774.77 L657.24,799.40 L658.25,752.97 L659.22,791.95 L660.22,816.19 L661.23,854.54 L662.20,804.44 L663.21,756.84 L664.18,745.57 L665.18,742.33 L666.19,750.09 L667.10,760.71 L668.10,782.13 L669.07,809.07 L670.08,835.19 L671.05,797.22 L672.06,764.58 L673.06,779.71 L674.03,793.60 L675.04,766.96 L676.01,739.43 L677.02,761.82 L678.02,789.88 L678.93,800.37 L679.93,764.39 L680.91,759.14 L681.91,724.92 L682.88,767.27 L683.89,812.95 L684.89,788.84 L685.87,780.79 L686.87,766.52 L687.84,809.08 L688.85,792.31 L689.86,774.25 L690.80,803.49 L691.80,817.78 L692.77,806.00 L693.78,809.08 L694.75,786.09 L695.76,760.89 L696.76,735.56 L697.73,730.06 L698.74,748.14 L699.71,765.47 L700.72,799.40 L701.72,804.57 L702.63,801.34 L703.63,796.21 L704.61,788.96 L705.61,771.35 L706.58,791.05 L707.59,803.27 L708.59,791.53 L709.57,774.25 L710.57,778.50 L711.54,789.49 L712.55,778.51 L713.55,787.80 L714.46,759.72 L715.47,733.63 L716.44,764.86 L717.44,790.70 L718.42,768.53 L719.42,768.45 L720.43,789.56 L721.40,786.76 L722.40,804.24 L723.38,792.61 L724.38,797.09 L725.39,765.06 L726.29,759.74 L727.30,777.80 L728.27,803.27 L729.28,806.47 L730.25,780.23 L731.25,777.03 L732.26,772.32 L733.23,784.64 L734.24,789.73 L735.21,784.21 L736.21,772.32 L737.22,779.05 L738.16,780.07 L739.17,780.06 L740.14,776.26 L741.14,760.73 L742.12,740.40 L743.12,783.26 L744.13,817.78 L745.10,788.34 L746.10,768.45 L747.08,778.93 L748.08,799.40 L749.09,781.21 L749.99,789.73 L751.00,784.22 L751.97,756.33 L752.98,758.78 L753.95,798.44 L754.95,796.46 L755.96,795.11 L756.93,766.63 L757.94,761.14 L758.91,757.81 L759.91,764.63 L760.92,783.94 L761.83,782.24 L762.83,798.44 L763.80,758.78 L764.81,771.41 L765.78,785.86 L766.79,775.75 L767.79,771.20 L768.76,766.52 L769.77,806.17 L770.74,806.27 L771.75,781.53 L772.75,779.83 L773.66,770.38 L774.66,785.18 L775.64,802.19 L776.64,809.08 L777.61,754.91 L778.62,757.81 L779.62,763.79 L780.60,795.28 L781.60,802.31 L782.57,798.82 L783.58,795.37 L784.59,783.22 L785.53,776.19 L786.53,777.77 L787.50,802.31 L788.51,792.94 L789.48,798.36 L790.49,787.80 L791.49,764.35 L792.46,740.40 L793.47,759.73 L794.44,792.28 L795.45,799.40 L796.45,809.98 L797.36,789.73 L798.36,773.03 L799.34,756.84 L800.34,791.17 L801.31,798.44 L802.32,793.60 L803.32,783.51 L804.30,801.34 L805.30,775.39 L806.27,778.12 L807.28,774.52 L808.28,758.78 L809.19,753.07 L810.20,751.04 L811.17,781.99 L812.17,801.52 L813.15,812.95 L814.15,797.22 L815.16,774.25 L816.13,794.42 L817.13,815.85 L818.11,792.57 L819.11,759.74 L820.12,767.09 L821.02,772.32 L822.03,756.76 L823.00,764.18 L824.01,757.81 L824.98,779.09 L825.98,792.48 L826.99,803.27 L827.96,806.43 L828.97,776.02 L829.94,774.25 L830.94,776.31 L831.95,778.12 L832.89,780.96 L833.90,788.80 L834.87,807.15 L835.87,801.34 L836.85,752.97 L837.85,753.69 L838.86,749.10 L839.83,746.20 L840.83,774.25 L841.81,789.38 L842.81,811.01 L843.82,793.71 L844.72,774.25 L845.73,777.36 L846.70,762.78 L847.71,767.48 L848.68,786.43 L849.68,809.08 L850.69,754.91 L851.66,775.38 L852.67,780.25 L853.64,783.93 L854.64,774.91 L855.65,763.17 L856.56,757.81 L857.56,773.18 L858.53,790.70 L859.54,771.62 L860.51,774.25 L861.52,798.27 L862.52,809.08 L863.49,765.55 L864.50,772.13 L865.47,774.90 L866.48,778.12 L867.48,772.43 L868.39,779.89 L869.39,791.88 L870.37,791.67 L871.37,775.09 L872.34,751.43 L873.35,736.53 L874.35,786.49 L875.33,829.39 L876.33,801.62 L877.30,760.71 L878.31,772.43 L879.32,793.60 L880.26,773.76 L881.26,755.27 L882.23,745.23 L883.24,750.69 L884.21,777.90 L885.22,789.43 L886.22,801.77 L887.19,812.95 L888.20,793.38 L889.17,782.89 L890.18,778.37 L891.18,767.48 L892.09,769.10 L893.09,777.35 L894.07,781.02 L895.07,800.37 L896.04,772.32 L897.05,758.08 L898.05,758.20 L899.03,744.27 L900.03,772.34 L901.00,786.05 L902.01,790.70 L903.01,795.68 L903.92,778.12 L904.93,784.42 L905.90,796.18 L906.90,792.90 L907.88,801.34 L908.88,791.33 L909.89,765.80 L910.86,752.01 L911.86,760.84 L912.84,772.00 L913.84,788.76 L914.85,793.42 L915.75,790.21 L916.76,789.34 L917.73,787.80 L918.74,771.43 L919.71,772.02 L920.71,762.65 L921.72,759.01 L922.69,785.88 L923.70,781.99 L924.67,787.84 L925.67,796.90 L926.68,802.31 L927.62,782.87 L928.63,753.82 L929.60,746.20 L930.60,761.27 L931.58,795.53 L932.58,772.32 L933.59,777.68 L934.56,793.89 L935.56,781.20 L936.54,794.57 L937.54,766.90 L938.55,749.10 L939.45,757.16 L940.46,754.06 L941.43,774.25 L942.44,758.50 L943.41,766.52 L944.41,782.01 L945.42,802.96 L946.39,821.65 L947.40,803.11 L948.37,800.79 L949.37,774.25 L950.38,779.63 L951.29,789.83 L952.29,805.03 L953.26,800.37 L954.27,808.11 L955.24,780.86 L956.25,787.80 L957.25,774.76 L958.22,775.14 L959.23,746.95 L960.20,746.20 L961.21,749.73 L962.21,757.11 L963.12,776.19 L964.12,764.08 L965.10,763.09 L966.10,768.45 L967.07,790.48 L968.08,810.04 L969.08,810.03 L970.06,802.94 L971.06,783.43 L972.03,760.65 L973.04,765.55 L974.05,766.60 L974.99,768.45 L975.99,773.81 L976.96,786.39 L977.97,791.67 L978.94,762.65 L979.95,771.10 L980.95,768.77 L981.92,790.70 L982.93,796.98 L983.90,797.47 L984.91,775.26 L985.91,777.16 L986.82,776.44 L987.82,766.52 L988.80,777.67 L989.80,783.93 L990.77,784.61 L991.78,746.75 L992.78,752.97 L993.76,775.18 L994.76,792.63 L995.73,794.56 L996.74,784.54 L997.74,783.93 L998.65,803.87 L999.66,814.88 L1000.63,789.51 L1001.63,784.17 L1002.61,765.69 L1003.61,744.27 L1004.62,740.78 L1005.59,751.04 L1006.59,778.78 L1007.57,815.85 L1008.57,801.30 L1009.58,784.82 L1010.48,776.19 L1011.49,792.20 L1012.46,793.60 L1013.47,785.86 L1014.44,794.34 L1015.44,800.37 L1016.45,777.16 L1017.42,789.73 L1018.43,767.98 L1019.40,727.82 L1020.40,761.20 L1021.41,778.12 L1022.35,758.24 L1023.36,737.50 L1024.33,760.00 L1025.33,778.59 L1026.31,809.08 L1027.31,812.15 L1028.32,826.49 L1029.29,801.86 L1030.29,790.88 L1031.27,769.42 L1032.27,774.36 L1033.28,791.67 L1034.18,773.35 L1035.19,753.94 L1036.16,771.25 L1037.17,785.86 L1038.14,772.71 L1039.14,765.21 L1040.15,756.84 L1041.12,780.18 L1042.13,794.57 L1043.10,796.50 L1044.10,793.20 L1045.11,799.49 L1046.02,800.43 L1047.02,805.21 L1047.99,783.61 L1049.00,776.62 L1049.97,746.20 L1050.98,773.74 L1051.98,791.67 L1052.95,791.78 L1053.96,774.25 L1054.93,795.88 L1055.94,792.63 L1056.94,796.00 L1057.85,804.22 L1058.85,811.98 L1059.83,795.49 L1060.83,785.63 L1061.80,761.68 L1062.81,769.26 L1063.81,782.64 L1064.79,794.52 L1065.79,794.57 L1066.76,795.21 L1067.77,782.70 L1068.78,766.56 L1069.72,764.58 L1070.72,763.37 L1071.69,791.78 L1072.70,793.60 L1073.67,789.70 L1074.68,772.85 L1075.68,772.32 L1076.65,775.55 L1077.66,785.86 L1078.63,779.33 L1079.64,767.37 L1080.64,777.47 L1081.55,772.32 L1082.55,795.53 L1083.53,784.70 L1084.53,782.83 L1085.50,784.75 L1086.51,774.25 L1087.51,764.64 L1088.49,760.16 L1089.49,750.37 L1090.46,738.46 L1091.47,770.61 L1092.47,802.31 L1093.38,794.43 L1094.39,798.89 L1095.36,776.44 L1096.36,769.42 L1097.34,787.80 L1098.34,795.32 L1099.35,773.66 L1100.32,776.19 L1101.32,785.41 L1102.30,785.61 L1103.30,783.42 L1104.31,792.63 L1105.21,758.95 L1106.22,773.49 L1107.19,747.17 L1108.20,763.61 L1109.17,781.16 L1110.17,814.88 L1111.18,793.95 L1112.15,787.41 L1113.16,772.32 L1114.13,786.74 L1115.13,800.37 L1116.14,784.91 L1117.08,763.77 L1118.09,748.14 L1119.06,751.67 L1120.06,776.19 L1121.04,772.58 L1122.04,756.84 L1123.05,774.37 L1124.02,806.13 L1125.02,828.42 L1126.00,806.65 L1127.00,785.11 L1128.01,751.04 L1128.91,764.67 L1129.92,779.21 L1130.89,796.50 L1131.90,791.97 L1132.87,777.76 L1133.87,787.80 L1134.88,773.81 L1135.85,763.35 L1136.86,761.68 L1137.83,760.88 L1138.83,776.19 L1139.84,786.71 L1140.75,792.71 L1141.75,804.24 L1142.72,804.45 L1143.73,792.74 L1144.70,771.35 L1145.71,767.85 L1146.71,790.70 L1147.68,762.65 L1148.69,777.05 L1149.66,789.73 L1150.67,768.70 L1151.67,761.68 L1152.58,779.44 L1153.58,790.51 L1154.56,803.27 L1155.56,797.94 L1156.53,781.75 L1157.54,773.05 L1158.54,755.87 L1159.52,764.43 L1160.52,777.16 L1161.49,755.25 L1162.50,768.45 L1163.51,769.18 L1164.45,780.52 L1165.45,795.53 L1166.42,782.91 L1167.43,777.16 L1168.40,761.85 L1169.41,772.14 L1170.41,751.31 L1171.38,744.27 L1172.39,771.48 L1173.36,778.17 L1174.37,810.26 L1175.37,816.82 L1176.28,791.58 L1177.28,787.35 L1178.26,757.01 L1179.26,752.59 L1180.23,732.66 L1181.24,769.88 L1182.24,773.46 L1183.22,811.01 L1184.22,804.91 L1185.19,812.73 L1186.20,811.01 L1187.20,787.80 L1188.11,777.79 L1189.12,760.80 L1190.09,761.68 L1191.09,778.00 L1192.07,778.12 L1193.07,779.78 L1194.08,789.76 L1195.05,781.99 L1196.05,790.99 L1197.03,795.53 L1198.03,771.02 L1199.04,762.65 L1199.94,763.79 L1200.95,781.35 L1201.92,776.19 L1202.93,785.83 L1203.90,814.88 L1204.90,795.18 L1205.91,781.99 L1206.88,792.97 L1207.89,795.53 L1208.86,772.32 L1209.87,773.38 L1210.87,766.02 L1211.81,743.86 L1212.82,748.14 L1213.79,794.66 L1214.79,811.98 L1215.77,811.15 L1216.77,812.71 L1217.78,812.95 L1218.75,786.81 L1219.75,759.09 L1220.73,734.59 L1221.73,746.69 L1222.74,772.32 L1223.64,766.64 L1224.65,765.55 L1225.62,792.70 L1226.63,801.34 L1227.60,795.67 L1228.60,809.08 L1229.61,771.54 L1230.58,771.81 L1231.59,748.11" fill="none" stroke="#000000" stroke-width="2.85" stroke-linejoin="round" stroke-linecap="butt"/>
<rect x="1284.0" y="693.00" width="45" height="180.65" fill="#D9D9D9"/>
<text x="0" y="0" transform="translate(1297.5,783.33) rotate(90)" text-anchor="middle" font-size="23.47" fill="#1A1A1A">remainder</text>
<line x1="123.67" x2="131.0" y1="828.05" y2="828.05" stroke="#333333" stroke-width="2.85"/>
<text x="117.8" y="836.45" text-anchor="end" font-size="23.47" fill="#4D4D4D">-0.004</text>
<line x1="123.67" x2="131.0" y1="779.60" y2="779.60" stroke="#333333" stroke-width="2.85"/>
<text x="117.8" y="788.00" text-anchor="end" font-size="23.47" fill="#4D4D4D">0.000</text>
<line x1="123.67" x2="131.0" y1="731.15" y2="731.15" stroke="#333333" stroke-width="2.85"/>
<text x="117.8" y="739.55" text-anchor="end" font-size="23.47" fill="#4D4D4D">0.004</text>
<line x1="215.20" x2="215.20" y1="873.65" y2="880.98" stroke="#333333" stroke-width="2.85"/>
<text x="215.20" y="904.2" text-anchor="middle" font-size="23.47" fill="#4D4D4D">1940 Jan</text>
<line x1="452.02" x2="452.02" y1="873.65" y2="880.98" stroke="#333333" stroke-width="2.85"/>
<text x="452.02" y="904.2" text-anchor="middle" font-size="23.47" fill="#4D4D4D">1960 Jan</text>
<line x1="688.85" x2="688.85" y1="873.65" y2="880.98" stroke="#333333" stroke-width="2.85"/>
<text x="688.85" y="904.2" text-anchor="middle" font-size="23.47" fill="#4D4D4D">1980 Jan</text>
<line x1="925.67" x2="925.67" y1="873.65" y2="880.98" stroke="#333333" stroke-width="2.85"/>
<text x="925.67" y="904.2" text-anchor="middle" font-size="23.47" fill="#4D4D4D">2000 Jan</text>
<line x1="1162.50" x2="1162.50" y1="873.65" y2="880.98" stroke="#333333" stroke-width="2.85"/>
<text x="1162.50" y="904.2" text-anchor="middle" font-size="23.47" fill="#4D4D4D">2020 Jan</text>
<text x="707.5" y="937.8" text-anchor="middle" font-size="29.33" fill="#000000">time</text>
<text x="0" y="0" transform="translate(37.1,594.02) rotate(-90)" font-size="29.33" fill="#000000" textLength="187.9" lengthAdjust="spacing">siconc_mean_</text>
<text x="0" y="0" transform="translate(37.1,386.62) rotate(-90) scale(1,1.06)" text-anchor="end" font-size="29.33" fill="#000000">S</text>
<text transform="translate(0,40.8) scale(1,1.0636)" x="130.7 152.7 173.9" y="0" font-size="35.2" fill="#000000">STL</text>
<text x="203.4" y="40.8" font-size="35.2" fill="#000000" textLength="231.2" lengthAdjust="spacing">decomposition</text>
<text x="131.3" y="84.9" font-size="29.33" fill="#000000" textLength="543.3" lengthAdjust="spacing">values = trend + season_year + remainder</text>
</svg></body></html>
